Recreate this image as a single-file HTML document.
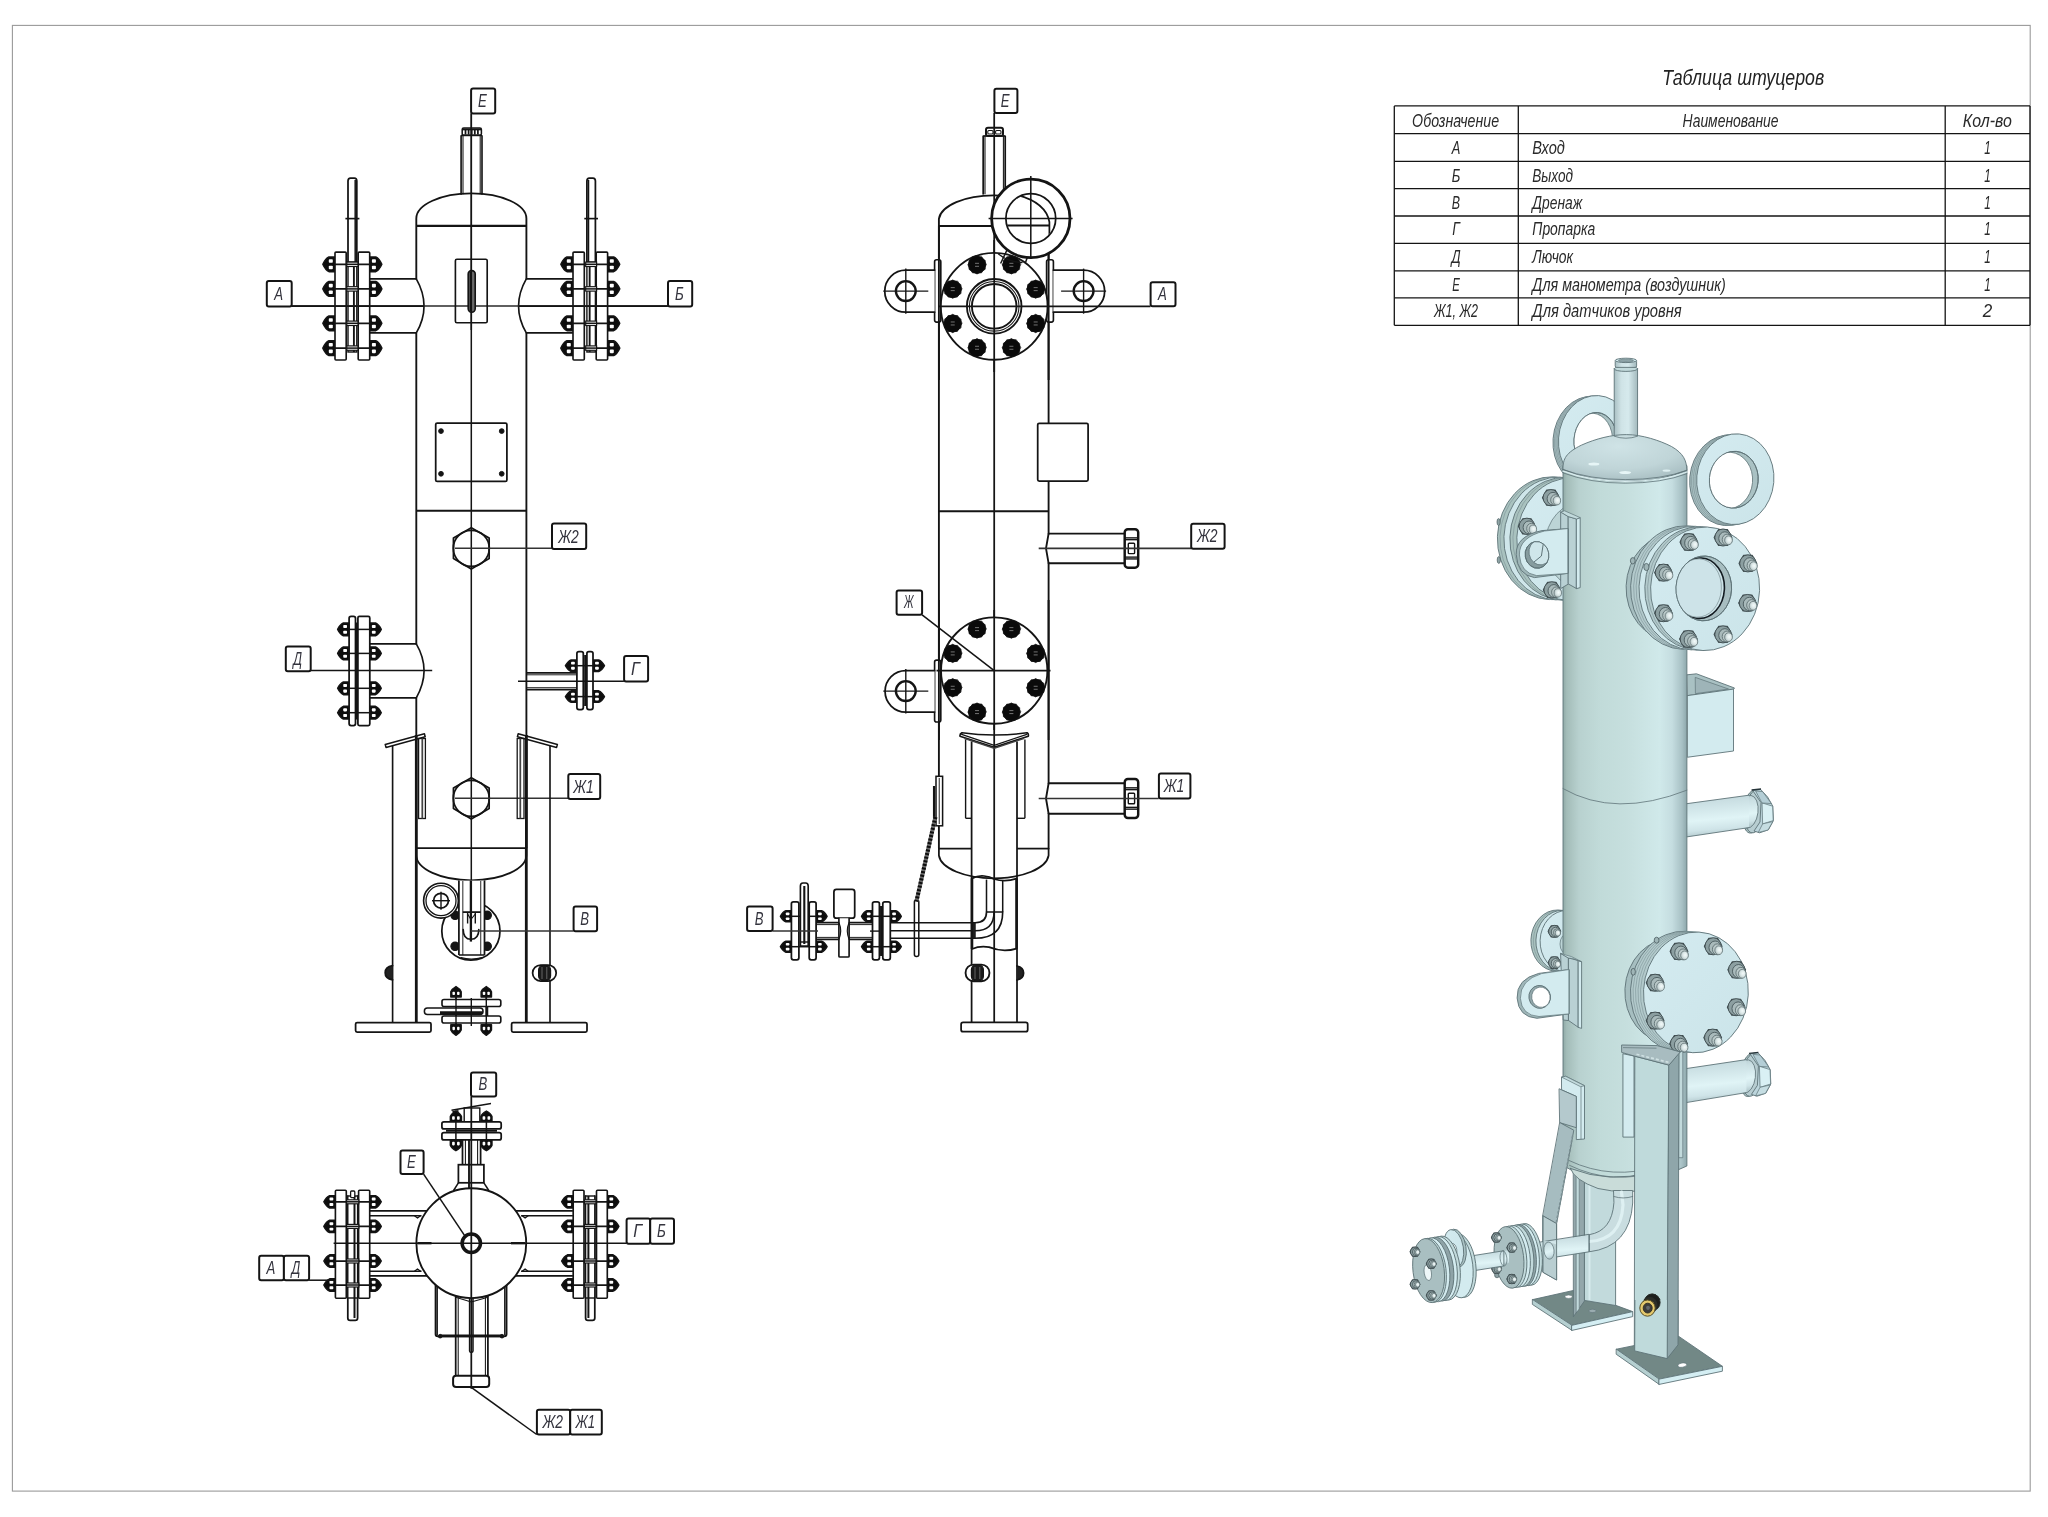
<!DOCTYPE html>
<html lang="ru"><head><meta charset="utf-8"><title>Таблица штуцеров</title>
<style>html,body{margin:0;padding:0;background:#fff;}body{width:2048px;height:1517px;overflow:hidden;font-family:"Liberation Sans",sans-serif;}svg{display:block;filter:blur(0.38px);}</style></head>
<body>
<svg width="2048" height="1517" viewBox="0 0 2048 1517" font-family="'Liberation Sans', sans-serif" font-style="italic">
<rect x="0" y="0" width="2048" height="1517" fill="#fff"/>
<rect x="12.4" y="25.4" width="2017.8" height="1465.7" rx="0" fill="none" stroke="#9a9a9a" stroke-width="1.1"/>
<line x1="1394.3" y1="105.9" x2="2030" y2="105.9" stroke="#141414" stroke-width="1.3" />
<line x1="1394.3" y1="133.6" x2="2030" y2="133.6" stroke="#141414" stroke-width="1.3" />
<line x1="1394.3" y1="161.3" x2="2030" y2="161.3" stroke="#141414" stroke-width="1.3" />
<line x1="1394.3" y1="188.7" x2="2030" y2="188.7" stroke="#141414" stroke-width="1.3" />
<line x1="1394.3" y1="216" x2="2030" y2="216" stroke="#141414" stroke-width="1.3" />
<line x1="1394.3" y1="243.4" x2="2030" y2="243.4" stroke="#141414" stroke-width="1.3" />
<line x1="1394.3" y1="270.8" x2="2030" y2="270.8" stroke="#141414" stroke-width="1.3" />
<line x1="1394.3" y1="297.9" x2="2030" y2="297.9" stroke="#141414" stroke-width="1.3" />
<line x1="1394.3" y1="325.3" x2="2030" y2="325.3" stroke="#141414" stroke-width="1.3" />
<line x1="1394.3" y1="105.9" x2="1394.3" y2="325.3" stroke="#141414" stroke-width="1.3" />
<line x1="1518.3" y1="105.9" x2="1518.3" y2="325.3" stroke="#141414" stroke-width="1.3" />
<line x1="1945.2" y1="105.9" x2="1945.2" y2="325.3" stroke="#141414" stroke-width="1.3" />
<line x1="2030" y1="105.9" x2="2030" y2="325.3" stroke="#141414" stroke-width="1.3" />
<text x="1743.2" y="85.2" font-size="22.2" text-anchor="middle" fill="#222" font-weight="normal" textLength="162" lengthAdjust="spacingAndGlyphs">Таблица штуцеров</text>
<text x="1455.6" y="126.6" font-size="18.6" text-anchor="middle" fill="#2a2a2a" font-weight="normal" textLength="87" lengthAdjust="spacingAndGlyphs">Обозначение</text>
<text x="1730.6" y="126.6" font-size="18.6" text-anchor="middle" fill="#2a2a2a" font-weight="normal" textLength="96" lengthAdjust="spacingAndGlyphs">Наименование</text>
<text x="1987.3" y="126.6" font-size="18.6" text-anchor="middle" fill="#2a2a2a" font-weight="normal" textLength="49" lengthAdjust="spacingAndGlyphs">Кол-во</text>
<text x="1456" y="154.3" font-size="18.6" text-anchor="middle" fill="#2a2a2a" font-weight="normal" textLength="8.6" lengthAdjust="spacingAndGlyphs">А</text>
<text x="1532.3" y="154.3" font-size="18.6" text-anchor="start" fill="#2a2a2a" font-weight="normal" textLength="32.6" lengthAdjust="spacingAndGlyphs">Вход</text>
<text x="1987.6" y="154.3" font-size="18.6" text-anchor="middle" fill="#2a2a2a" font-weight="normal" textLength="6.5" lengthAdjust="spacingAndGlyphs">1</text>
<text x="1456" y="181.9" font-size="18.6" text-anchor="middle" fill="#2a2a2a" font-weight="normal" textLength="8.6" lengthAdjust="spacingAndGlyphs">Б</text>
<text x="1532.3" y="181.9" font-size="18.6" text-anchor="start" fill="#2a2a2a" font-weight="normal" textLength="40.8" lengthAdjust="spacingAndGlyphs">Выход</text>
<text x="1987.6" y="181.9" font-size="18.6" text-anchor="middle" fill="#2a2a2a" font-weight="normal" textLength="6.5" lengthAdjust="spacingAndGlyphs">1</text>
<text x="1456" y="208.7" font-size="18.6" text-anchor="middle" fill="#2a2a2a" font-weight="normal" textLength="8.3" lengthAdjust="spacingAndGlyphs">В</text>
<text x="1532.3" y="208.7" font-size="18.6" text-anchor="start" fill="#2a2a2a" font-weight="normal" textLength="49.9" lengthAdjust="spacingAndGlyphs">Дренаж</text>
<text x="1987.6" y="208.7" font-size="18.6" text-anchor="middle" fill="#2a2a2a" font-weight="normal" textLength="6.5" lengthAdjust="spacingAndGlyphs">1</text>
<text x="1456" y="235.2" font-size="18.6" text-anchor="middle" fill="#2a2a2a" font-weight="normal" textLength="7.5" lengthAdjust="spacingAndGlyphs">Г</text>
<text x="1532.3" y="235.2" font-size="18.6" text-anchor="start" fill="#2a2a2a" font-weight="normal" textLength="63" lengthAdjust="spacingAndGlyphs">Пропарка</text>
<text x="1987.6" y="235.2" font-size="18.6" text-anchor="middle" fill="#2a2a2a" font-weight="normal" textLength="6.5" lengthAdjust="spacingAndGlyphs">1</text>
<text x="1456" y="263" font-size="18.6" text-anchor="middle" fill="#2a2a2a" font-weight="normal" textLength="9.2" lengthAdjust="spacingAndGlyphs">Д</text>
<text x="1532.3" y="263" font-size="18.6" text-anchor="start" fill="#2a2a2a" font-weight="normal" textLength="40.8" lengthAdjust="spacingAndGlyphs">Лючок</text>
<text x="1987.6" y="263" font-size="18.6" text-anchor="middle" fill="#2a2a2a" font-weight="normal" textLength="6.5" lengthAdjust="spacingAndGlyphs">1</text>
<text x="1456" y="290.9" font-size="18.6" text-anchor="middle" fill="#2a2a2a" font-weight="normal" textLength="7.6" lengthAdjust="spacingAndGlyphs">Е</text>
<text x="1532.3" y="290.9" font-size="18.6" text-anchor="start" fill="#2a2a2a" font-weight="normal" textLength="193.4" lengthAdjust="spacingAndGlyphs">Для манометра (воздушник)</text>
<text x="1987.6" y="290.9" font-size="18.6" text-anchor="middle" fill="#2a2a2a" font-weight="normal" textLength="6.5" lengthAdjust="spacingAndGlyphs">1</text>
<text x="1456" y="317.4" font-size="18.6" text-anchor="middle" fill="#2a2a2a" font-weight="normal" textLength="44" lengthAdjust="spacingAndGlyphs">Ж1, Ж2</text>
<text x="1532.3" y="317.4" font-size="18.6" text-anchor="start" fill="#2a2a2a" font-weight="normal" textLength="149.4" lengthAdjust="spacingAndGlyphs">Для датчиков уровня</text>
<text x="1987.6" y="317.4" font-size="18.6" text-anchor="middle" fill="#2a2a2a" font-weight="normal" textLength="9.5" lengthAdjust="spacingAndGlyphs">2</text>
<line x1="471.3" y1="113.4" x2="471.3" y2="880.5" stroke="#141414" stroke-width="1.52" />
<line x1="461.1" y1="135.2" x2="461.1" y2="194.8" stroke="#141414" stroke-width="1.64" />
<line x1="482" y1="135.2" x2="482" y2="194.8" stroke="#141414" stroke-width="1.64" />
<line x1="463" y1="135.2" x2="463" y2="194.2" stroke="#141414" stroke-width="1.05" />
<line x1="480.2" y1="135.2" x2="480.2" y2="194.2" stroke="#141414" stroke-width="1.05" />
<line x1="461.1" y1="135.4" x2="482" y2="135.4" stroke="#141414" stroke-width="1.64" />
<rect x="462.2" y="128" width="19.2" height="7.2" rx="1.5" fill="none" stroke="#141414" stroke-width="1.52"/>
<line x1="465.5" y1="129.2" x2="465.5" y2="134.6" stroke="#141414" stroke-width="1.75" />
<line x1="468.6" y1="129.2" x2="468.6" y2="134.6" stroke="#141414" stroke-width="1.75" />
<line x1="471.7" y1="129.2" x2="471.7" y2="134.6" stroke="#141414" stroke-width="1.75" />
<line x1="474.8" y1="129.2" x2="474.8" y2="134.6" stroke="#141414" stroke-width="1.75" />
<line x1="477.9" y1="129.2" x2="477.9" y2="134.6" stroke="#141414" stroke-width="1.75" />
<line x1="462.2" y1="129.4" x2="481.4" y2="129.4" stroke="#141414" stroke-width="1.87" />
<path d="M416.3 278.8 V218.5 A55.05 25.1 0 0 1 526.4 218.5 V278.8" fill="none" stroke="#141414" stroke-width="1.87" stroke-linejoin="round" stroke-linecap="round" />
<path d="M416.3 332.9 V643.9 M416.3 697.8 V848.1 M526.4 332.9 V848.1" fill="none" stroke="#141414" stroke-width="1.87" stroke-linejoin="round" stroke-linecap="round" />
<line x1="416.3" y1="225.9" x2="526.4" y2="225.9" stroke="#141414" stroke-width="2.11" />
<line x1="416.3" y1="510.8" x2="526.4" y2="510.8" stroke="#141414" stroke-width="1.87" />
<line x1="416.3" y1="848.1" x2="526.4" y2="848.1" stroke="#141414" stroke-width="1.75" />
<path d="M416.3 848.1 V855 A55.05 25.3 0 0 0 526.4 855 V848.1" fill="none" stroke="#141414" stroke-width="1.75" stroke-linejoin="round" stroke-linecap="round" />
<line x1="369.7" y1="278.8" x2="416.3" y2="278.8" stroke="#141414" stroke-width="1.75" />
<line x1="369.7" y1="332.9" x2="416.3" y2="332.9" stroke="#141414" stroke-width="1.75" />
<path d="M416.3 278.8 Q431.8 306.1 416.3 332.9" fill="none" stroke="#141414" stroke-width="1.64" stroke-linejoin="round" stroke-linecap="round" />
<path d="M348.0 262 V181 Q348.0 178 350.5 178 H354.3 Q356.8 178 356.8 181 V262" fill="#fff" stroke="#141414" stroke-width="1.75" stroke-linejoin="round" stroke-linecap="round" />
<line x1="355.2" y1="180" x2="355.2" y2="262" stroke="#141414" stroke-width="1.52" />
<line x1="345.4" y1="218.6" x2="359.4" y2="218.6" stroke="#141414" stroke-width="1.64" />
<path d="M335 256.9 L328.9 256.9 Q325.48 258.38 322.8 264.3 Q325.48 270.22 328.9 271.7 L335 271.7 Z" fill="#0d0d0d" stroke="#141414" stroke-width="1.4" stroke-linejoin="round" stroke-linecap="round" />
<rect x="328.8" y="259.27" width="4" height="3.55" rx="0.8" fill="#fff" stroke="none" stroke-width="0.0"/>
<rect x="328.8" y="265.78" width="4" height="3.55" rx="0.8" fill="#fff" stroke="none" stroke-width="0.0"/>
<path d="M369.7 256.9 L375.8 256.9 Q379.22 258.38 381.9 264.3 Q379.22 270.22 375.8 271.7 L369.7 271.7 Z" fill="#0d0d0d" stroke="#141414" stroke-width="1.4" stroke-linejoin="round" stroke-linecap="round" />
<rect x="371.9" y="259.27" width="4" height="3.55" rx="0.8" fill="#fff" stroke="none" stroke-width="0.0"/>
<rect x="371.9" y="265.78" width="4" height="3.55" rx="0.8" fill="#fff" stroke="none" stroke-width="0.0"/>
<path d="M335 281.5 L328.9 281.5 Q325.48 282.98 322.8 288.9 Q325.48 294.82 328.9 296.3 L335 296.3 Z" fill="#0d0d0d" stroke="#141414" stroke-width="1.4" stroke-linejoin="round" stroke-linecap="round" />
<rect x="328.8" y="283.87" width="4" height="3.55" rx="0.8" fill="#fff" stroke="none" stroke-width="0.0"/>
<rect x="328.8" y="290.38" width="4" height="3.55" rx="0.8" fill="#fff" stroke="none" stroke-width="0.0"/>
<path d="M369.7 281.5 L375.8 281.5 Q379.22 282.98 381.9 288.9 Q379.22 294.82 375.8 296.3 L369.7 296.3 Z" fill="#0d0d0d" stroke="#141414" stroke-width="1.4" stroke-linejoin="round" stroke-linecap="round" />
<rect x="371.9" y="283.87" width="4" height="3.55" rx="0.8" fill="#fff" stroke="none" stroke-width="0.0"/>
<rect x="371.9" y="290.38" width="4" height="3.55" rx="0.8" fill="#fff" stroke="none" stroke-width="0.0"/>
<path d="M335 315.9 L328.9 315.9 Q325.48 317.38 322.8 323.3 Q325.48 329.22 328.9 330.7 L335 330.7 Z" fill="#0d0d0d" stroke="#141414" stroke-width="1.4" stroke-linejoin="round" stroke-linecap="round" />
<rect x="328.8" y="318.27" width="4" height="3.55" rx="0.8" fill="#fff" stroke="none" stroke-width="0.0"/>
<rect x="328.8" y="324.78" width="4" height="3.55" rx="0.8" fill="#fff" stroke="none" stroke-width="0.0"/>
<path d="M369.7 315.9 L375.8 315.9 Q379.22 317.38 381.9 323.3 Q379.22 329.22 375.8 330.7 L369.7 330.7 Z" fill="#0d0d0d" stroke="#141414" stroke-width="1.4" stroke-linejoin="round" stroke-linecap="round" />
<rect x="371.9" y="318.27" width="4" height="3.55" rx="0.8" fill="#fff" stroke="none" stroke-width="0.0"/>
<rect x="371.9" y="324.78" width="4" height="3.55" rx="0.8" fill="#fff" stroke="none" stroke-width="0.0"/>
<path d="M335 340.7 L328.9 340.7 Q325.48 342.18 322.8 348.1 Q325.48 354.02 328.9 355.5 L335 355.5 Z" fill="#0d0d0d" stroke="#141414" stroke-width="1.4" stroke-linejoin="round" stroke-linecap="round" />
<rect x="328.8" y="343.07" width="4" height="3.55" rx="0.8" fill="#fff" stroke="none" stroke-width="0.0"/>
<rect x="328.8" y="349.58" width="4" height="3.55" rx="0.8" fill="#fff" stroke="none" stroke-width="0.0"/>
<path d="M369.7 340.7 L375.8 340.7 Q379.22 342.18 381.9 348.1 Q379.22 354.02 375.8 355.5 L369.7 355.5 Z" fill="#0d0d0d" stroke="#141414" stroke-width="1.4" stroke-linejoin="round" stroke-linecap="round" />
<rect x="371.9" y="343.07" width="4" height="3.55" rx="0.8" fill="#fff" stroke="none" stroke-width="0.0"/>
<rect x="371.9" y="349.58" width="4" height="3.55" rx="0.8" fill="#fff" stroke="none" stroke-width="0.0"/>
<rect x="335" y="252.1" width="11.2" height="107.9" rx="1" fill="#fff" stroke="#141414" stroke-width="1.64"/>
<rect x="358.2" y="252.1" width="11.5" height="107.9" rx="1" fill="#fff" stroke="#141414" stroke-width="1.64"/>
<line x1="335" y1="264.3" x2="369.7" y2="264.3" stroke="#141414" stroke-width="1.75" />
<line x1="335" y1="288.9" x2="369.7" y2="288.9" stroke="#141414" stroke-width="1.75" />
<line x1="335" y1="323.3" x2="369.7" y2="323.3" stroke="#141414" stroke-width="1.75" />
<line x1="335" y1="348.1" x2="369.7" y2="348.1" stroke="#141414" stroke-width="1.75" />
<rect x="348" y="262" width="8.8" height="90" rx="0" fill="none" stroke="#141414" stroke-width="1.4"/>
<line x1="353.9" y1="262" x2="353.9" y2="352" stroke="#141414" stroke-width="1.87" />
<rect x="346.8" y="262.1" width="11.2" height="4.4" rx="0" fill="#fff" stroke="#141414" stroke-width="1.17"/>
<line x1="346.8" y1="264.3" x2="358" y2="264.3" stroke="#141414" stroke-width="1.52" />
<rect x="346.8" y="286.7" width="11.2" height="4.4" rx="0" fill="#fff" stroke="#141414" stroke-width="1.17"/>
<line x1="346.8" y1="288.9" x2="358" y2="288.9" stroke="#141414" stroke-width="1.52" />
<rect x="346.8" y="321.1" width="11.2" height="4.4" rx="0" fill="#fff" stroke="#141414" stroke-width="1.17"/>
<line x1="346.8" y1="323.3" x2="358" y2="323.3" stroke="#141414" stroke-width="1.52" />
<rect x="346.8" y="345.9" width="11.2" height="4.4" rx="0" fill="#fff" stroke="#141414" stroke-width="1.17"/>
<line x1="346.8" y1="348.1" x2="358" y2="348.1" stroke="#141414" stroke-width="1.52" />
<line x1="572.9" y1="278.8" x2="526.3" y2="278.8" stroke="#141414" stroke-width="1.75" />
<line x1="572.9" y1="332.9" x2="526.3" y2="332.9" stroke="#141414" stroke-width="1.75" />
<path d="M526.3 278.8 Q510.8 306.1 526.3 332.9" fill="none" stroke="#141414" stroke-width="1.64" stroke-linejoin="round" stroke-linecap="round" />
<path d="M586.9 262 V181 Q586.9 178 589.4 178 H592.9 Q595.4 178 595.4 181 V262" fill="#fff" stroke="#141414" stroke-width="1.75" stroke-linejoin="round" stroke-linecap="round" />
<line x1="588.5" y1="180" x2="588.5" y2="262" stroke="#141414" stroke-width="1.52" />
<line x1="584.3" y1="218.6" x2="598" y2="218.6" stroke="#141414" stroke-width="1.64" />
<path d="M573 256.9 L566.9 256.9 Q563.48 258.38 560.8 264.3 Q563.48 270.22 566.9 271.7 L573 271.7 Z" fill="#0d0d0d" stroke="#141414" stroke-width="1.4" stroke-linejoin="round" stroke-linecap="round" />
<rect x="566.8" y="259.27" width="4" height="3.55" rx="0.8" fill="#fff" stroke="none" stroke-width="0.0"/>
<rect x="566.8" y="265.78" width="4" height="3.55" rx="0.8" fill="#fff" stroke="none" stroke-width="0.0"/>
<path d="M607.6 256.9 L613.7 256.9 Q617.12 258.38 619.8 264.3 Q617.12 270.22 613.7 271.7 L607.6 271.7 Z" fill="#0d0d0d" stroke="#141414" stroke-width="1.4" stroke-linejoin="round" stroke-linecap="round" />
<rect x="609.8" y="259.27" width="4" height="3.55" rx="0.8" fill="#fff" stroke="none" stroke-width="0.0"/>
<rect x="609.8" y="265.78" width="4" height="3.55" rx="0.8" fill="#fff" stroke="none" stroke-width="0.0"/>
<path d="M573 281.5 L566.9 281.5 Q563.48 282.98 560.8 288.9 Q563.48 294.82 566.9 296.3 L573 296.3 Z" fill="#0d0d0d" stroke="#141414" stroke-width="1.4" stroke-linejoin="round" stroke-linecap="round" />
<rect x="566.8" y="283.87" width="4" height="3.55" rx="0.8" fill="#fff" stroke="none" stroke-width="0.0"/>
<rect x="566.8" y="290.38" width="4" height="3.55" rx="0.8" fill="#fff" stroke="none" stroke-width="0.0"/>
<path d="M607.6 281.5 L613.7 281.5 Q617.12 282.98 619.8 288.9 Q617.12 294.82 613.7 296.3 L607.6 296.3 Z" fill="#0d0d0d" stroke="#141414" stroke-width="1.4" stroke-linejoin="round" stroke-linecap="round" />
<rect x="609.8" y="283.87" width="4" height="3.55" rx="0.8" fill="#fff" stroke="none" stroke-width="0.0"/>
<rect x="609.8" y="290.38" width="4" height="3.55" rx="0.8" fill="#fff" stroke="none" stroke-width="0.0"/>
<path d="M573 315.9 L566.9 315.9 Q563.48 317.38 560.8 323.3 Q563.48 329.22 566.9 330.7 L573 330.7 Z" fill="#0d0d0d" stroke="#141414" stroke-width="1.4" stroke-linejoin="round" stroke-linecap="round" />
<rect x="566.8" y="318.27" width="4" height="3.55" rx="0.8" fill="#fff" stroke="none" stroke-width="0.0"/>
<rect x="566.8" y="324.78" width="4" height="3.55" rx="0.8" fill="#fff" stroke="none" stroke-width="0.0"/>
<path d="M607.6 315.9 L613.7 315.9 Q617.12 317.38 619.8 323.3 Q617.12 329.22 613.7 330.7 L607.6 330.7 Z" fill="#0d0d0d" stroke="#141414" stroke-width="1.4" stroke-linejoin="round" stroke-linecap="round" />
<rect x="609.8" y="318.27" width="4" height="3.55" rx="0.8" fill="#fff" stroke="none" stroke-width="0.0"/>
<rect x="609.8" y="324.78" width="4" height="3.55" rx="0.8" fill="#fff" stroke="none" stroke-width="0.0"/>
<path d="M573 340.7 L566.9 340.7 Q563.48 342.18 560.8 348.1 Q563.48 354.02 566.9 355.5 L573 355.5 Z" fill="#0d0d0d" stroke="#141414" stroke-width="1.4" stroke-linejoin="round" stroke-linecap="round" />
<rect x="566.8" y="343.07" width="4" height="3.55" rx="0.8" fill="#fff" stroke="none" stroke-width="0.0"/>
<rect x="566.8" y="349.58" width="4" height="3.55" rx="0.8" fill="#fff" stroke="none" stroke-width="0.0"/>
<path d="M607.6 340.7 L613.7 340.7 Q617.12 342.18 619.8 348.1 Q617.12 354.02 613.7 355.5 L607.6 355.5 Z" fill="#0d0d0d" stroke="#141414" stroke-width="1.4" stroke-linejoin="round" stroke-linecap="round" />
<rect x="609.8" y="343.07" width="4" height="3.55" rx="0.8" fill="#fff" stroke="none" stroke-width="0.0"/>
<rect x="609.8" y="349.58" width="4" height="3.55" rx="0.8" fill="#fff" stroke="none" stroke-width="0.0"/>
<rect x="573" y="252.1" width="11.3" height="107.9" rx="1" fill="#fff" stroke="#141414" stroke-width="1.64"/>
<rect x="596.2" y="252.1" width="11.4" height="107.9" rx="1" fill="#fff" stroke="#141414" stroke-width="1.64"/>
<line x1="573" y1="264.3" x2="607.6" y2="264.3" stroke="#141414" stroke-width="1.75" />
<line x1="573" y1="288.9" x2="607.6" y2="288.9" stroke="#141414" stroke-width="1.75" />
<line x1="573" y1="323.3" x2="607.6" y2="323.3" stroke="#141414" stroke-width="1.75" />
<line x1="573" y1="348.1" x2="607.6" y2="348.1" stroke="#141414" stroke-width="1.75" />
<rect x="586.9" y="262" width="8.5" height="90" rx="0" fill="none" stroke="#141414" stroke-width="1.4"/>
<line x1="589.65" y1="262" x2="589.65" y2="352" stroke="#141414" stroke-width="1.87" />
<rect x="585.7" y="262.1" width="10.9" height="4.4" rx="0" fill="#fff" stroke="#141414" stroke-width="1.17"/>
<line x1="585.7" y1="264.3" x2="596.6" y2="264.3" stroke="#141414" stroke-width="1.52" />
<rect x="585.7" y="286.7" width="10.9" height="4.4" rx="0" fill="#fff" stroke="#141414" stroke-width="1.17"/>
<line x1="585.7" y1="288.9" x2="596.6" y2="288.9" stroke="#141414" stroke-width="1.52" />
<rect x="585.7" y="321.1" width="10.9" height="4.4" rx="0" fill="#fff" stroke="#141414" stroke-width="1.17"/>
<line x1="585.7" y1="323.3" x2="596.6" y2="323.3" stroke="#141414" stroke-width="1.52" />
<rect x="585.7" y="345.9" width="10.9" height="4.4" rx="0" fill="#fff" stroke="#141414" stroke-width="1.17"/>
<line x1="585.7" y1="348.1" x2="596.6" y2="348.1" stroke="#141414" stroke-width="1.52" />
<line x1="291.7" y1="306.1" x2="667.8" y2="306.1" stroke="#2a2a2a" stroke-width="1.52" />
<line x1="291.7" y1="306.1" x2="424" y2="306.1" stroke="#141414" stroke-width="1.87" />
<line x1="518.6" y1="306.1" x2="667.8" y2="306.1" stroke="#141414" stroke-width="1.87" />
<rect x="266.8" y="281.1" width="24.9" height="25.5" rx="2.0" fill="#fff" stroke="#141414" stroke-width="1.99"/>
<text x="278.55" y="300.2" font-size="17.8" text-anchor="middle" fill="#34343e" font-weight="normal" textLength="8.8" lengthAdjust="spacingAndGlyphs">А</text>
<rect x="668" y="281.1" width="24.2" height="25.5" rx="2.0" fill="#fff" stroke="#141414" stroke-width="1.99"/>
<text x="679.4" y="300.2" font-size="17.8" text-anchor="middle" fill="#34343e" font-weight="normal" textLength="8.8" lengthAdjust="spacingAndGlyphs">Б</text>
<rect x="471.1" y="88.4" width="24.1" height="25" rx="2.0" fill="#fff" stroke="#141414" stroke-width="1.99"/>
<text x="482.45" y="107" font-size="17.8" text-anchor="middle" fill="#34343e" font-weight="normal" textLength="8.8" lengthAdjust="spacingAndGlyphs">Е</text>
<rect x="455.4" y="259.3" width="31.8" height="63.4" rx="1.5" fill="none" stroke="#141414" stroke-width="1.64"/>
<rect x="468.2" y="270.6" width="7" height="41.6" rx="3.4" fill="#6a6a6a" stroke="#141414" stroke-width="1.64"/>
<line x1="470.6" y1="272" x2="470.6" y2="311" stroke="#141414" stroke-width="1.87" />
<line x1="471.3" y1="113.4" x2="471.3" y2="330" stroke="#141414" stroke-width="1.52" />
<rect x="435.7" y="423" width="71.2" height="58.4" rx="1.5" fill="none" stroke="#141414" stroke-width="1.75"/>
<circle cx="441" cy="431.1" r="2.4" fill="#141414" stroke="#141414" stroke-width="0.94"/>
<circle cx="501.7" cy="431.1" r="2.4" fill="#141414" stroke="#141414" stroke-width="0.94"/>
<circle cx="441" cy="473.8" r="2.4" fill="#141414" stroke="#141414" stroke-width="0.94"/>
<circle cx="501.7" cy="473.8" r="2.4" fill="#141414" stroke="#141414" stroke-width="0.94"/>
<path d="M471.3 527.7 L489.14 538 L489.14 558.6 L471.3 568.9 L453.46 558.6 L453.46 538 Z" fill="none" stroke="#141414" stroke-width="1.75" stroke-linejoin="round" stroke-linecap="round" />
<circle cx="471.3" cy="548.3" r="18" fill="none" stroke="#141414" stroke-width="1.75"/>
<line x1="455" y1="548.3" x2="551.8" y2="548.3" stroke="#333" stroke-width="1.64" />
<rect x="552" y="523.6" width="34.2" height="25.3" rx="2.0" fill="#fff" stroke="#141414" stroke-width="1.99"/>
<text x="568.4" y="542.5" font-size="17.8" text-anchor="middle" fill="#34343e" font-weight="normal" textLength="20.5" lengthAdjust="spacingAndGlyphs">Ж2</text>
<path d="M471.3 777.7 L489.14 788 L489.14 808.6 L471.3 818.9 L453.46 808.6 L453.46 788 Z" fill="none" stroke="#141414" stroke-width="1.75" stroke-linejoin="round" stroke-linecap="round" />
<circle cx="471.3" cy="798.3" r="18" fill="none" stroke="#141414" stroke-width="1.75"/>
<line x1="455" y1="798.3" x2="568.1" y2="798.3" stroke="#333" stroke-width="1.64" />
<rect x="568.3" y="774" width="31.9" height="25" rx="2.0" fill="#fff" stroke="#141414" stroke-width="1.99"/>
<text x="583.55" y="792.6" font-size="17.8" text-anchor="middle" fill="#34343e" font-weight="normal" textLength="20.5" lengthAdjust="spacingAndGlyphs">Ж1</text>
<line x1="369.8" y1="643.9" x2="416.3" y2="643.9" stroke="#141414" stroke-width="1.75" />
<line x1="369.8" y1="697.8" x2="416.3" y2="697.8" stroke="#141414" stroke-width="1.75" />
<path d="M416.3 643.9 Q431.8 670.5 416.3 697.8" fill="none" stroke="#141414" stroke-width="1.64" stroke-linejoin="round" stroke-linecap="round" />
<path d="M349.1 623 L343.35 623 Q340.13 624.28 337.6 629.4 Q340.13 634.52 343.35 635.8 L349.1 635.8 Z" fill="#0d0d0d" stroke="#141414" stroke-width="1.4" stroke-linejoin="round" stroke-linecap="round" />
<rect x="343.26" y="625.05" width="3.77" height="3.07" rx="0.8" fill="#fff" stroke="none" stroke-width="0.0"/>
<rect x="343.26" y="630.68" width="3.77" height="3.07" rx="0.8" fill="#fff" stroke="none" stroke-width="0.0"/>
<path d="M369.8 623 L375.55 623 Q378.77 624.28 381.3 629.4 Q378.77 634.52 375.55 635.8 L369.8 635.8 Z" fill="#0d0d0d" stroke="#141414" stroke-width="1.4" stroke-linejoin="round" stroke-linecap="round" />
<rect x="371.87" y="625.05" width="3.77" height="3.07" rx="0.8" fill="#fff" stroke="none" stroke-width="0.0"/>
<rect x="371.87" y="630.68" width="3.77" height="3.07" rx="0.8" fill="#fff" stroke="none" stroke-width="0.0"/>
<path d="M349.1 647 L343.35 647 Q340.13 648.28 337.6 653.4 Q340.13 658.52 343.35 659.8 L349.1 659.8 Z" fill="#0d0d0d" stroke="#141414" stroke-width="1.4" stroke-linejoin="round" stroke-linecap="round" />
<rect x="343.26" y="649.05" width="3.77" height="3.07" rx="0.8" fill="#fff" stroke="none" stroke-width="0.0"/>
<rect x="343.26" y="654.68" width="3.77" height="3.07" rx="0.8" fill="#fff" stroke="none" stroke-width="0.0"/>
<path d="M369.8 647 L375.55 647 Q378.77 648.28 381.3 653.4 Q378.77 658.52 375.55 659.8 L369.8 659.8 Z" fill="#0d0d0d" stroke="#141414" stroke-width="1.4" stroke-linejoin="round" stroke-linecap="round" />
<rect x="371.87" y="649.05" width="3.77" height="3.07" rx="0.8" fill="#fff" stroke="none" stroke-width="0.0"/>
<rect x="371.87" y="654.68" width="3.77" height="3.07" rx="0.8" fill="#fff" stroke="none" stroke-width="0.0"/>
<path d="M349.1 681.9 L343.35 681.9 Q340.13 683.18 337.6 688.3 Q340.13 693.42 343.35 694.7 L349.1 694.7 Z" fill="#0d0d0d" stroke="#141414" stroke-width="1.4" stroke-linejoin="round" stroke-linecap="round" />
<rect x="343.26" y="683.95" width="3.77" height="3.07" rx="0.8" fill="#fff" stroke="none" stroke-width="0.0"/>
<rect x="343.26" y="689.58" width="3.77" height="3.07" rx="0.8" fill="#fff" stroke="none" stroke-width="0.0"/>
<path d="M369.8 681.9 L375.55 681.9 Q378.77 683.18 381.3 688.3 Q378.77 693.42 375.55 694.7 L369.8 694.7 Z" fill="#0d0d0d" stroke="#141414" stroke-width="1.4" stroke-linejoin="round" stroke-linecap="round" />
<rect x="371.87" y="683.95" width="3.77" height="3.07" rx="0.8" fill="#fff" stroke="none" stroke-width="0.0"/>
<rect x="371.87" y="689.58" width="3.77" height="3.07" rx="0.8" fill="#fff" stroke="none" stroke-width="0.0"/>
<path d="M349.1 706.3 L343.35 706.3 Q340.13 707.58 337.6 712.7 Q340.13 717.82 343.35 719.1 L349.1 719.1 Z" fill="#0d0d0d" stroke="#141414" stroke-width="1.4" stroke-linejoin="round" stroke-linecap="round" />
<rect x="343.26" y="708.35" width="3.77" height="3.07" rx="0.8" fill="#fff" stroke="none" stroke-width="0.0"/>
<rect x="343.26" y="713.98" width="3.77" height="3.07" rx="0.8" fill="#fff" stroke="none" stroke-width="0.0"/>
<path d="M369.8 706.3 L375.55 706.3 Q378.77 707.58 381.3 712.7 Q378.77 717.82 375.55 719.1 L369.8 719.1 Z" fill="#0d0d0d" stroke="#141414" stroke-width="1.4" stroke-linejoin="round" stroke-linecap="round" />
<rect x="371.87" y="708.35" width="3.77" height="3.07" rx="0.8" fill="#fff" stroke="none" stroke-width="0.0"/>
<rect x="371.87" y="713.98" width="3.77" height="3.07" rx="0.8" fill="#fff" stroke="none" stroke-width="0.0"/>
<rect x="349.1" y="616.4" width="6.4" height="109.1" rx="2" fill="#fff" stroke="#141414" stroke-width="1.75"/>
<rect x="357.9" y="616.4" width="11.9" height="109.1" rx="1.5" fill="#fff" stroke="#141414" stroke-width="1.75"/>
<line x1="356.7" y1="622.5" x2="356.7" y2="719.5" stroke="#141414" stroke-width="2.34" />
<line x1="349.1" y1="629.4" x2="369.8" y2="629.4" stroke="#141414" stroke-width="1.52" />
<line x1="349.1" y1="653.4" x2="369.8" y2="653.4" stroke="#141414" stroke-width="1.52" />
<line x1="349.1" y1="688.3" x2="369.8" y2="688.3" stroke="#141414" stroke-width="1.52" />
<line x1="349.1" y1="712.7" x2="369.8" y2="712.7" stroke="#141414" stroke-width="1.52" />
<line x1="310.7" y1="670.5" x2="432.2" y2="670.5" stroke="#141414" stroke-width="1.64" />
<rect x="285.8" y="646.6" width="24.9" height="24.6" rx="2.0" fill="#fff" stroke="#141414" stroke-width="1.99"/>
<text x="297.55" y="664.8" font-size="17.8" text-anchor="middle" fill="#34343e" font-weight="normal" textLength="8.8" lengthAdjust="spacingAndGlyphs">Д</text>
<line x1="526.4" y1="672.9" x2="576.9" y2="672.9" stroke="#141414" stroke-width="1.75" />
<line x1="526.4" y1="689.5" x2="576.9" y2="689.5" stroke="#141414" stroke-width="1.75" />
<line x1="526.4" y1="674.8" x2="576.9" y2="674.8" stroke="#141414" stroke-width="0.94" />
<line x1="526.4" y1="687.7" x2="576.9" y2="687.7" stroke="#141414" stroke-width="0.94" />
<path d="M576.9 659.9 L571.15 659.9 Q567.93 661.06 565.4 665.7 Q567.93 670.34 571.15 671.5 L576.9 671.5 Z" fill="#0d0d0d" stroke="#141414" stroke-width="1.4" stroke-linejoin="round" stroke-linecap="round" />
<rect x="571.06" y="661.76" width="3.77" height="2.78" rx="0.8" fill="#fff" stroke="none" stroke-width="0.0"/>
<rect x="571.06" y="666.86" width="3.77" height="2.78" rx="0.8" fill="#fff" stroke="none" stroke-width="0.0"/>
<path d="M593 659.9 L598.75 659.9 Q601.97 661.06 604.5 665.7 Q601.97 670.34 598.75 671.5 L593 671.5 Z" fill="#0d0d0d" stroke="#141414" stroke-width="1.4" stroke-linejoin="round" stroke-linecap="round" />
<rect x="595.07" y="661.76" width="3.77" height="2.78" rx="0.8" fill="#fff" stroke="none" stroke-width="0.0"/>
<rect x="595.07" y="666.86" width="3.77" height="2.78" rx="0.8" fill="#fff" stroke="none" stroke-width="0.0"/>
<path d="M576.9 690.8 L571.15 690.8 Q567.93 691.96 565.4 696.6 Q567.93 701.24 571.15 702.4 L576.9 702.4 Z" fill="#0d0d0d" stroke="#141414" stroke-width="1.4" stroke-linejoin="round" stroke-linecap="round" />
<rect x="571.06" y="692.66" width="3.77" height="2.78" rx="0.8" fill="#fff" stroke="none" stroke-width="0.0"/>
<rect x="571.06" y="697.76" width="3.77" height="2.78" rx="0.8" fill="#fff" stroke="none" stroke-width="0.0"/>
<path d="M593 690.8 L598.75 690.8 Q601.97 691.96 604.5 696.6 Q601.97 701.24 598.75 702.4 L593 702.4 Z" fill="#0d0d0d" stroke="#141414" stroke-width="1.4" stroke-linejoin="round" stroke-linecap="round" />
<rect x="595.07" y="692.66" width="3.77" height="2.78" rx="0.8" fill="#fff" stroke="none" stroke-width="0.0"/>
<rect x="595.07" y="697.76" width="3.77" height="2.78" rx="0.8" fill="#fff" stroke="none" stroke-width="0.0"/>
<rect x="576.9" y="651.5" width="6.4" height="58.1" rx="2" fill="#fff" stroke="#141414" stroke-width="1.75"/>
<rect x="586.9" y="651.5" width="6.1" height="58.1" rx="2" fill="#fff" stroke="#141414" stroke-width="1.75"/>
<line x1="585.1" y1="655" x2="585.1" y2="706" stroke="#141414" stroke-width="1.87" />
<line x1="576.9" y1="665.7" x2="593" y2="665.7" stroke="#141414" stroke-width="1.52" />
<line x1="576.9" y1="696.6" x2="593" y2="696.6" stroke="#141414" stroke-width="1.52" />
<line x1="518" y1="681.2" x2="623.9" y2="681.2" stroke="#141414" stroke-width="1.64" />
<rect x="624.1" y="656.1" width="24" height="25.5" rx="2.0" fill="#fff" stroke="#141414" stroke-width="1.99"/>
<text x="635.4" y="675.2" font-size="17.8" text-anchor="middle" fill="#34343e" font-weight="normal" textLength="8.8" lengthAdjust="spacingAndGlyphs">Г</text>
<line x1="392.6" y1="746" x2="392.6" y2="1022.5" stroke="#141414" stroke-width="1.64" />
<line x1="416.3" y1="848.1" x2="416.3" y2="1022.5" stroke="#141414" stroke-width="2.81" />
<rect x="355.6" y="1022.5" width="75.4" height="9.5" rx="1.5" fill="none" stroke="#141414" stroke-width="1.75"/>
<path d="M385.2 744.4 L424.4 733.8 L425.2 736.8 L386 747.4 Z" fill="#fff" stroke="#141414" stroke-width="1.52" stroke-linejoin="round" stroke-linecap="round" />
<rect x="418.6" y="738.5" width="6.8" height="80" rx="0" fill="none" stroke="#141414" stroke-width="1.29"/>
<line x1="422.3" y1="738.5" x2="422.3" y2="818.5" stroke="#444" stroke-width="1.75" />
<line x1="550" y1="746" x2="550" y2="1022.5" stroke="#141414" stroke-width="1.64" />
<line x1="526.3" y1="848.1" x2="526.3" y2="1022.5" stroke="#141414" stroke-width="2.81" />
<rect x="511.6" y="1022.5" width="75.4" height="9.5" rx="1.5" fill="none" stroke="#141414" stroke-width="1.75"/>
<path d="M557.4 744.4 L518.2 733.8 L517.4 736.8 L556.6 747.4 Z" fill="#fff" stroke="#141414" stroke-width="1.52" stroke-linejoin="round" stroke-linecap="round" />
<rect x="517.2" y="738.5" width="6.8" height="80" rx="0" fill="none" stroke="#141414" stroke-width="1.29"/>
<line x1="520.3" y1="738.5" x2="520.3" y2="818.5" stroke="#444" stroke-width="1.75" />
<line x1="416.3" y1="735" x2="416.3" y2="848.1" stroke="#141414" stroke-width="2.81" />
<line x1="526.4" y1="735" x2="526.4" y2="848.1" stroke="#141414" stroke-width="2.81" />
<circle cx="470.9" cy="931.1" r="29.1" fill="none" stroke="#141414" stroke-width="1.75"/>
<circle cx="455.1" cy="915.3" r="4.2" fill="#141414" stroke="#141414" stroke-width="1.17"/>
<circle cx="487.2" cy="915.3" r="4.2" fill="#141414" stroke="#141414" stroke-width="1.17"/>
<circle cx="455.1" cy="946.3" r="4.2" fill="#141414" stroke="#141414" stroke-width="1.17"/>
<circle cx="487.2" cy="946.3" r="4.2" fill="#141414" stroke="#141414" stroke-width="1.17"/>
<rect x="458.9" y="880.6" width="25.6" height="74.4" rx="0" fill="#fff" stroke="none" stroke-width="0.0"/>
<line x1="458.9" y1="880.4" x2="458.9" y2="955" stroke="#141414" stroke-width="1.75" />
<line x1="484.5" y1="880.4" x2="484.5" y2="955" stroke="#141414" stroke-width="1.75" />
<line x1="462.8" y1="881" x2="462.8" y2="955" stroke="#444" stroke-width="1.17" />
<line x1="480.7" y1="881" x2="480.7" y2="955" stroke="#444" stroke-width="1.17" />
<line x1="458.9" y1="955" x2="484.5" y2="955" stroke="#141414" stroke-width="1.52" />
<path d="M461.0 957.6 Q470.9 960.6 482.4 957.6" fill="none" stroke="#141414" stroke-width="1.05" stroke-linejoin="round" stroke-linecap="round" />
<line x1="462.8" y1="912.1" x2="480.7" y2="912.1" stroke="#141414" stroke-width="1.75" />
<path d="M463.2 929.5 Q463.2 939.3 470.9 939.3 Q478.8 939.3 478.8 929.5" fill="none" stroke="#141414" stroke-width="1.64" stroke-linejoin="round" stroke-linecap="round" />
<line x1="467.6" y1="912.1" x2="467.6" y2="923.5" stroke="#141414" stroke-width="1.4" />
<line x1="475.3" y1="912.1" x2="475.3" y2="923.5" stroke="#141414" stroke-width="1.4" />
<path d="M467.6 914.0 L470.9 919.5 L475.3 914.0" fill="none" stroke="#141414" stroke-width="1.17" stroke-linejoin="round" stroke-linecap="round" />
<line x1="470.9" y1="880.5" x2="470.9" y2="941.6" stroke="#141414" stroke-width="2.34" />
<line x1="470.9" y1="931.1" x2="573.4" y2="931.1" stroke="#333" stroke-width="1.52" />
<rect x="573.6" y="906.4" width="23.5" height="24.8" rx="2.0" fill="#fff" stroke="#141414" stroke-width="1.99"/>
<text x="584.65" y="924.8" font-size="17.8" text-anchor="middle" fill="#34343e" font-weight="normal" textLength="8.8" lengthAdjust="spacingAndGlyphs">В</text>
<circle cx="441" cy="900.7" r="17.4" fill="#fff" stroke="#141414" stroke-width="1.64"/>
<circle cx="441" cy="900.7" r="15" fill="none" stroke="#141414" stroke-width="1.29"/>
<circle cx="441" cy="900.7" r="7.4" fill="none" stroke="#141414" stroke-width="1.75"/>
<line x1="432" y1="900.7" x2="450" y2="900.7" stroke="#141414" stroke-width="1.4" />
<line x1="441" y1="891.8" x2="441" y2="909.8" stroke="#141414" stroke-width="1.4" />
<path d="M392.6 965.6 Q385.0 967 385.2 972.7 Q385.0 978.4 392.6 979.8" fill="#222" stroke="#141414" stroke-width="1.75" stroke-linejoin="round" stroke-linecap="round" />
<rect x="532.6" y="965" width="23.6" height="16" rx="8.0" fill="#fff" stroke="#141414" stroke-width="1.75"/>
<rect x="538.6" y="965.4" width="12" height="15.2" rx="4.5" fill="#1a1a1a" stroke="#141414" stroke-width="1.17"/>
<line x1="542" y1="967" x2="542" y2="979" stroke="#777" stroke-width="0.82" />
<line x1="546.8" y1="967" x2="546.8" y2="979" stroke="#777" stroke-width="0.82" />
<path d="M450.8 997 L450.8 991.75 Q451.84 988.81 456 986.5 Q460.16 988.81 461.2 991.75 L461.2 997 Z" fill="#0d0d0d" stroke="#141414" stroke-width="1.4" stroke-linejoin="round" stroke-linecap="round" />
<rect x="452.46" y="991.66" width="2.5" height="3.44" rx="0.8" fill="#fff" stroke="none" stroke-width="0.0"/>
<rect x="457.04" y="991.66" width="2.5" height="3.44" rx="0.8" fill="#fff" stroke="none" stroke-width="0.0"/>
<path d="M450.8 1024.8 L450.8 1030.05 Q451.84 1032.99 456 1035.3 Q460.16 1032.99 461.2 1030.05 L461.2 1024.8 Z" fill="#0d0d0d" stroke="#141414" stroke-width="1.4" stroke-linejoin="round" stroke-linecap="round" />
<rect x="452.46" y="1026.69" width="2.5" height="3.44" rx="0.8" fill="#fff" stroke="none" stroke-width="0.0"/>
<rect x="457.04" y="1026.69" width="2.5" height="3.44" rx="0.8" fill="#fff" stroke="none" stroke-width="0.0"/>
<line x1="456" y1="997" x2="456" y2="1024.8" stroke="#141414" stroke-width="1.64" />
<path d="M481.1 997 L481.1 991.75 Q482.14 988.81 486.3 986.5 Q490.46 988.81 491.5 991.75 L491.5 997 Z" fill="#0d0d0d" stroke="#141414" stroke-width="1.4" stroke-linejoin="round" stroke-linecap="round" />
<rect x="482.76" y="991.66" width="2.5" height="3.44" rx="0.8" fill="#fff" stroke="none" stroke-width="0.0"/>
<rect x="487.34" y="991.66" width="2.5" height="3.44" rx="0.8" fill="#fff" stroke="none" stroke-width="0.0"/>
<path d="M481.1 1024.8 L481.1 1030.05 Q482.14 1032.99 486.3 1035.3 Q490.46 1032.99 491.5 1030.05 L491.5 1024.8 Z" fill="#0d0d0d" stroke="#141414" stroke-width="1.4" stroke-linejoin="round" stroke-linecap="round" />
<rect x="482.76" y="1026.69" width="2.5" height="3.44" rx="0.8" fill="#fff" stroke="none" stroke-width="0.0"/>
<rect x="487.34" y="1026.69" width="2.5" height="3.44" rx="0.8" fill="#fff" stroke="none" stroke-width="0.0"/>
<line x1="486.3" y1="997" x2="486.3" y2="1024.8" stroke="#141414" stroke-width="1.64" />
<rect x="442" y="999.5" width="58.8" height="7" rx="2" fill="#fff" stroke="#141414" stroke-width="1.64"/>
<rect x="442" y="1016" width="58.8" height="7" rx="2" fill="#fff" stroke="#141414" stroke-width="1.64"/>
<rect x="424.4" y="1008" width="58.6" height="6.6" rx="3" fill="#fff" stroke="#141414" stroke-width="1.52"/>
<line x1="440" y1="1012.6" x2="483" y2="1012.6" stroke="#141414" stroke-width="2.57" />
<line x1="471.3" y1="998" x2="471.3" y2="1026" stroke="#141414" stroke-width="1.4" />
<line x1="487.5" y1="1006.5" x2="487.5" y2="1016" stroke="#141414" stroke-width="1.52" />
<line x1="456" y1="997" x2="456" y2="1024.8" stroke="#141414" stroke-width="1.4" />
<line x1="486.3" y1="997" x2="486.3" y2="1024.8" stroke="#141414" stroke-width="1.4" />
<line x1="994.2" y1="113.1" x2="994.2" y2="1022.4" stroke="#141414" stroke-width="1.75" />
<line x1="983.2" y1="135.6" x2="983.2" y2="194.6" stroke="#141414" stroke-width="1.75" />
<line x1="1005.2" y1="135.6" x2="1005.2" y2="200" stroke="#141414" stroke-width="1.75" />
<line x1="985" y1="135.6" x2="985" y2="194.2" stroke="#141414" stroke-width="1.05" />
<line x1="1003.4" y1="135.6" x2="1003.4" y2="199" stroke="#141414" stroke-width="1.05" />
<line x1="983.2" y1="136" x2="1005.2" y2="136" stroke="#141414" stroke-width="1.64" />
<rect x="986" y="127.8" width="17" height="8.2" rx="2" fill="none" stroke="#141414" stroke-width="1.99"/>
<rect x="987.8" y="130.4" width="5.2" height="3.6" rx="1" fill="none" stroke="#141414" stroke-width="1.05"/>
<rect x="995.6" y="130.4" width="5.4" height="3.6" rx="1" fill="none" stroke="#141414" stroke-width="1.05"/>
<rect x="994.4" y="88.8" width="23" height="24.3" rx="2.0" fill="#fff" stroke="#141414" stroke-width="1.99"/>
<text x="1005.2" y="106.7" font-size="17.8" text-anchor="middle" fill="#34343e" font-weight="normal" textLength="8.8" lengthAdjust="spacingAndGlyphs">Е</text>
<path d="M938.9 848.6 V218.8 A55 25.3 0 0 1 1048.6 218.8 V848.6" fill="none" stroke="#141414" stroke-width="1.87" stroke-linejoin="round" stroke-linecap="round" />
<line x1="938.9" y1="226" x2="1048.6" y2="226" stroke="#141414" stroke-width="2.11" />
<line x1="938.9" y1="511.3" x2="1048.6" y2="511.3" stroke="#141414" stroke-width="1.87" />
<path d="M938.9 848.6 V855.5 A55 24.6 0 0 0 1048.6 855.5 V848.6" fill="none" stroke="#141414" stroke-width="1.75" stroke-linejoin="round" stroke-linecap="round" />
<line x1="938.9" y1="848.6" x2="971.6" y2="848.6" stroke="#141414" stroke-width="1.75" />
<line x1="1017" y1="848.6" x2="1048.6" y2="848.6" stroke="#141414" stroke-width="1.75" />
<rect x="934.6" y="259.8" width="6.2" height="62.3" rx="2" fill="#fff" stroke="#141414" stroke-width="1.64"/>
<rect x="1046.6" y="259.8" width="6.8" height="62.3" rx="2" fill="#fff" stroke="#141414" stroke-width="1.64"/>
<path d="M934.6 270.1 H905.8 A21.05 21.05 0 0 0 905.8 312.2 H934.6" fill="#fff" stroke="#141414" stroke-width="1.75" stroke-linejoin="round" stroke-linecap="round" />
<circle cx="905.8" cy="291.1" r="9.9" fill="none" stroke="#141414" stroke-width="2.34"/>
<line x1="883.3" y1="291.1" x2="928.3" y2="291.1" stroke="#141414" stroke-width="1.4" />
<line x1="905.8" y1="268.6" x2="905.8" y2="313.7" stroke="#141414" stroke-width="1.4" />
<path d="M1053.4 270.1 H1083.6 A21.05 21.05 0 0 1 1083.6 312.2 H1053.4" fill="#fff" stroke="#141414" stroke-width="1.75" stroke-linejoin="round" stroke-linecap="round" />
<circle cx="1083.6" cy="291.1" r="9.9" fill="none" stroke="#141414" stroke-width="2.34"/>
<line x1="1061.1" y1="291.1" x2="1106.1" y2="291.1" stroke="#141414" stroke-width="1.4" />
<line x1="1083.6" y1="268.6" x2="1083.6" y2="313.7" stroke="#141414" stroke-width="1.4" />
<circle cx="994.2" cy="306.3" r="53.4" fill="#fff" stroke="#141414" stroke-width="1.87"/>
<path d="M1044.88 323.48 L1040.28 331.45 L1031.08 331.45 L1026.48 323.48 L1031.08 315.52 L1040.28 315.52 Z" fill="#0a0a0a" stroke="#141414" stroke-width="0.7" stroke-linejoin="round" stroke-linecap="round" />
<path d="M1043.65 328.08 L1035.68 332.68 L1027.71 328.08 L1027.71 318.88 L1035.68 314.28 L1043.65 318.88 Z" fill="#0a0a0a" stroke="#141414" stroke-width="0.7" stroke-linejoin="round" stroke-linecap="round" />
<circle cx="1035.68" cy="323.48" r="8.56" fill="#0a0a0a" stroke="#141414" stroke-width="0.47"/>
<line x1="1033.68" y1="321.98" x2="1037.68" y2="321.98" stroke="#7a7a7a" stroke-width="0.94" />
<line x1="1033.68" y1="324.98" x2="1037.68" y2="324.98" stroke="#7a7a7a" stroke-width="0.94" />
<path d="M1020.58 347.78 L1015.98 355.75 L1006.78 355.75 L1002.18 347.78 L1006.78 339.81 L1015.98 339.81 Z" fill="#0a0a0a" stroke="#141414" stroke-width="0.7" stroke-linejoin="round" stroke-linecap="round" />
<path d="M1019.35 352.38 L1011.38 356.98 L1003.42 352.38 L1003.42 343.18 L1011.38 338.58 L1019.35 343.18 Z" fill="#0a0a0a" stroke="#141414" stroke-width="0.7" stroke-linejoin="round" stroke-linecap="round" />
<circle cx="1011.38" cy="347.78" r="8.56" fill="#0a0a0a" stroke="#141414" stroke-width="0.47"/>
<line x1="1009.38" y1="346.28" x2="1013.38" y2="346.28" stroke="#7a7a7a" stroke-width="0.94" />
<line x1="1009.38" y1="349.28" x2="1013.38" y2="349.28" stroke="#7a7a7a" stroke-width="0.94" />
<path d="M986.22 347.78 L981.62 355.75 L972.42 355.75 L967.82 347.78 L972.42 339.81 L981.62 339.81 Z" fill="#0a0a0a" stroke="#141414" stroke-width="0.7" stroke-linejoin="round" stroke-linecap="round" />
<path d="M984.98 352.38 L977.02 356.98 L969.05 352.38 L969.05 343.18 L977.02 338.58 L984.98 343.18 Z" fill="#0a0a0a" stroke="#141414" stroke-width="0.7" stroke-linejoin="round" stroke-linecap="round" />
<circle cx="977.02" cy="347.78" r="8.56" fill="#0a0a0a" stroke="#141414" stroke-width="0.47"/>
<line x1="975.02" y1="346.28" x2="979.02" y2="346.28" stroke="#7a7a7a" stroke-width="0.94" />
<line x1="975.02" y1="349.28" x2="979.02" y2="349.28" stroke="#7a7a7a" stroke-width="0.94" />
<path d="M961.92 323.48 L957.32 331.45 L948.12 331.45 L943.52 323.48 L948.12 315.52 L957.32 315.52 Z" fill="#0a0a0a" stroke="#141414" stroke-width="0.7" stroke-linejoin="round" stroke-linecap="round" />
<path d="M960.69 328.08 L952.72 332.68 L944.75 328.08 L944.75 318.88 L952.72 314.28 L960.69 318.88 Z" fill="#0a0a0a" stroke="#141414" stroke-width="0.7" stroke-linejoin="round" stroke-linecap="round" />
<circle cx="952.72" cy="323.48" r="8.56" fill="#0a0a0a" stroke="#141414" stroke-width="0.47"/>
<line x1="950.72" y1="321.98" x2="954.72" y2="321.98" stroke="#7a7a7a" stroke-width="0.94" />
<line x1="950.72" y1="324.98" x2="954.72" y2="324.98" stroke="#7a7a7a" stroke-width="0.94" />
<path d="M961.92 289.12 L957.32 297.08 L948.12 297.08 L943.52 289.12 L948.12 281.15 L957.32 281.15 Z" fill="#0a0a0a" stroke="#141414" stroke-width="0.7" stroke-linejoin="round" stroke-linecap="round" />
<path d="M960.69 293.72 L952.72 298.32 L944.75 293.72 L944.75 284.52 L952.72 279.92 L960.69 284.52 Z" fill="#0a0a0a" stroke="#141414" stroke-width="0.7" stroke-linejoin="round" stroke-linecap="round" />
<circle cx="952.72" cy="289.12" r="8.56" fill="#0a0a0a" stroke="#141414" stroke-width="0.47"/>
<line x1="950.72" y1="287.62" x2="954.72" y2="287.62" stroke="#7a7a7a" stroke-width="0.94" />
<line x1="950.72" y1="290.62" x2="954.72" y2="290.62" stroke="#7a7a7a" stroke-width="0.94" />
<path d="M986.22 264.82 L981.62 272.79 L972.42 272.79 L967.82 264.82 L972.42 256.85 L981.62 256.85 Z" fill="#0a0a0a" stroke="#141414" stroke-width="0.7" stroke-linejoin="round" stroke-linecap="round" />
<path d="M984.98 269.42 L977.02 274.02 L969.05 269.42 L969.05 260.22 L977.02 255.62 L984.98 260.22 Z" fill="#0a0a0a" stroke="#141414" stroke-width="0.7" stroke-linejoin="round" stroke-linecap="round" />
<circle cx="977.02" cy="264.82" r="8.56" fill="#0a0a0a" stroke="#141414" stroke-width="0.47"/>
<line x1="975.02" y1="263.32" x2="979.02" y2="263.32" stroke="#7a7a7a" stroke-width="0.94" />
<line x1="975.02" y1="266.32" x2="979.02" y2="266.32" stroke="#7a7a7a" stroke-width="0.94" />
<path d="M1020.58 264.82 L1015.98 272.79 L1006.78 272.79 L1002.18 264.82 L1006.78 256.85 L1015.98 256.85 Z" fill="#0a0a0a" stroke="#141414" stroke-width="0.7" stroke-linejoin="round" stroke-linecap="round" />
<path d="M1019.35 269.42 L1011.38 274.02 L1003.42 269.42 L1003.42 260.22 L1011.38 255.62 L1019.35 260.22 Z" fill="#0a0a0a" stroke="#141414" stroke-width="0.7" stroke-linejoin="round" stroke-linecap="round" />
<circle cx="1011.38" cy="264.82" r="8.56" fill="#0a0a0a" stroke="#141414" stroke-width="0.47"/>
<line x1="1009.38" y1="263.32" x2="1013.38" y2="263.32" stroke="#7a7a7a" stroke-width="0.94" />
<line x1="1009.38" y1="266.32" x2="1013.38" y2="266.32" stroke="#7a7a7a" stroke-width="0.94" />
<path d="M1044.88 289.12 L1040.28 297.08 L1031.08 297.08 L1026.48 289.12 L1031.08 281.15 L1040.28 281.15 Z" fill="#0a0a0a" stroke="#141414" stroke-width="0.7" stroke-linejoin="round" stroke-linecap="round" />
<path d="M1043.65 293.72 L1035.68 298.32 L1027.71 293.72 L1027.71 284.52 L1035.68 279.92 L1043.65 284.52 Z" fill="#0a0a0a" stroke="#141414" stroke-width="0.7" stroke-linejoin="round" stroke-linecap="round" />
<circle cx="1035.68" cy="289.12" r="8.56" fill="#0a0a0a" stroke="#141414" stroke-width="0.47"/>
<line x1="1033.68" y1="287.62" x2="1037.68" y2="287.62" stroke="#7a7a7a" stroke-width="0.94" />
<line x1="1033.68" y1="290.62" x2="1037.68" y2="290.62" stroke="#7a7a7a" stroke-width="0.94" />
<circle cx="994.2" cy="306.3" r="27.3" fill="none" stroke="#141414" stroke-width="1.87"/>
<circle cx="994.2" cy="306.3" r="24.8" fill="none" stroke="#141414" stroke-width="1.05"/>
<circle cx="994.2" cy="306.3" r="22.3" fill="none" stroke="#141414" stroke-width="1.87"/>
<line x1="994.2" y1="240" x2="994.2" y2="372" stroke="#141414" stroke-width="1.75" />
<line x1="938.9" y1="226" x2="938.9" y2="380" stroke="#141414" stroke-width="1.87" />
<line x1="1048.6" y1="226" x2="1048.6" y2="380" stroke="#141414" stroke-width="1.87" />
<line x1="1000.6" y1="263.5" x2="1008.2" y2="247.5" stroke="#141414" stroke-width="1.52" />
<line x1="1025.5" y1="262.5" x2="1030" y2="250" stroke="#141414" stroke-width="1.52" />
<line x1="1041.5" y1="320" x2="1052.5" y2="257" stroke="#141414" stroke-width="0.0" />
<circle cx="1030.8" cy="218.4" r="39.2" fill="#fff" stroke="#141414" stroke-width="2.81"/>
<circle cx="1030.8" cy="218.4" r="24.9" fill="none" stroke="#141414" stroke-width="1.75"/>
<clipPath id="ringhole"><circle cx="1030.8" cy="218.4" r="24.2"/></clipPath>
<g clip-path="url(#ringhole)">
<line x1="1000" y1="225.6" x2="1049" y2="225.6" stroke="#141414" stroke-width="1.99" />
<path d="M1018 195.2 Q1046 203 1049.4 222 V246" fill="none" stroke="#141414" stroke-width="1.75" stroke-linejoin="round" stroke-linecap="round" />
</g>
<line x1="988.6" y1="218.4" x2="1072.6" y2="218.4" stroke="#141414" stroke-width="1.52" />
<line x1="1030.8" y1="176" x2="1030.8" y2="259" stroke="#141414" stroke-width="1.52" />
<path d="M998.5 254 Q1008 262 1022 262.5" fill="none" stroke="#141414" stroke-width="1.4" stroke-linejoin="round" stroke-linecap="round" />
<line x1="938.9" y1="306.3" x2="1150.4" y2="306.3" stroke="#141414" stroke-width="1.75" />
<rect x="1150.6" y="282.2" width="24.9" height="24.1" rx="2.0" fill="#fff" stroke="#141414" stroke-width="1.99"/>
<text x="1162.35" y="299.9" font-size="17.8" text-anchor="middle" fill="#34343e" font-weight="normal" textLength="8.8" lengthAdjust="spacingAndGlyphs">А</text>
<rect x="1037.7" y="423.3" width="50.4" height="57.7" rx="1.5" fill="#fff" stroke="#141414" stroke-width="1.75"/>
<line x1="1048.6" y1="534.4" x2="1048.6" y2="562.5" stroke="#fff" stroke-width="3.51" />
<path d="M1124.7 533.6 H1048.6 L1046.0 548.4 L1048.6 563.3 H1124.7" fill="none" stroke="#141414" stroke-width="1.87" stroke-linejoin="round" stroke-linecap="round" />
<rect x="1124.7" y="529.15" width="13.5" height="38.5" rx="3.2" fill="#fff" stroke="#141414" stroke-width="2.46"/>
<line x1="1124.7" y1="537.88" x2="1138.2" y2="537.88" stroke="#141414" stroke-width="1.4" />
<line x1="1124.7" y1="539.67" x2="1138.2" y2="539.67" stroke="#141414" stroke-width="1.4" />
<line x1="1124.7" y1="557.12" x2="1138.2" y2="557.12" stroke="#141414" stroke-width="1.4" />
<line x1="1124.7" y1="558.92" x2="1138.2" y2="558.92" stroke="#141414" stroke-width="1.4" />
<rect x="1128.3" y="543.2" width="6.3" height="10.39" rx="0.8" fill="none" stroke="#141414" stroke-width="1.4"/>
<line x1="1038.7" y1="548.4" x2="1191" y2="548.4" stroke="#333" stroke-width="1.64" />
<rect x="1191.2" y="523.7" width="33.4" height="25.1" rx="2.0" fill="#fff" stroke="#141414" stroke-width="1.99"/>
<text x="1207.2" y="542.4" font-size="17.8" text-anchor="middle" fill="#34343e" font-weight="normal" textLength="20.5" lengthAdjust="spacingAndGlyphs">Ж2</text>
<line x1="1048.6" y1="784.1" x2="1048.6" y2="812.9" stroke="#fff" stroke-width="3.51" />
<path d="M1124.7 783.3 H1048.6 L1046.0 798.5 L1048.6 813.7 H1124.7" fill="none" stroke="#141414" stroke-width="1.87" stroke-linejoin="round" stroke-linecap="round" />
<rect x="1124.7" y="779" width="13.5" height="39" rx="3.2" fill="#fff" stroke="#141414" stroke-width="2.46"/>
<line x1="1124.7" y1="787.85" x2="1138.2" y2="787.85" stroke="#141414" stroke-width="1.4" />
<line x1="1124.7" y1="789.65" x2="1138.2" y2="789.65" stroke="#141414" stroke-width="1.4" />
<line x1="1124.7" y1="807.35" x2="1138.2" y2="807.35" stroke="#141414" stroke-width="1.4" />
<line x1="1124.7" y1="809.15" x2="1138.2" y2="809.15" stroke="#141414" stroke-width="1.4" />
<rect x="1128.3" y="793.24" width="6.3" height="10.53" rx="0.8" fill="none" stroke="#141414" stroke-width="1.4"/>
<line x1="1038.7" y1="798.5" x2="1158.7" y2="798.5" stroke="#333" stroke-width="1.64" />
<rect x="1158.9" y="773.4" width="31.5" height="25.1" rx="2.0" fill="#fff" stroke="#141414" stroke-width="1.99"/>
<text x="1173.95" y="792.1" font-size="17.8" text-anchor="middle" fill="#34343e" font-weight="normal" textLength="20.5" lengthAdjust="spacingAndGlyphs">Ж1</text>
<rect x="934.6" y="660.1" width="6.2" height="61.9" rx="2" fill="#fff" stroke="#141414" stroke-width="1.64"/>
<path d="M934.6 670.6 H905.8 A20.75 20.75 0 0 0 905.8 712.1 H934.6" fill="#fff" stroke="#141414" stroke-width="1.75" stroke-linejoin="round" stroke-linecap="round" />
<circle cx="905.8" cy="691.1" r="9.9" fill="none" stroke="#141414" stroke-width="2.34"/>
<line x1="883.3" y1="691.1" x2="928.3" y2="691.1" stroke="#141414" stroke-width="1.4" />
<line x1="905.8" y1="669.1" x2="905.8" y2="713.6" stroke="#141414" stroke-width="1.4" />
<circle cx="994.2" cy="670.6" r="53.2" fill="#fff" stroke="#141414" stroke-width="1.87"/>
<path d="M1044.88 687.78 L1040.28 695.75 L1031.08 695.75 L1026.48 687.78 L1031.08 679.82 L1040.28 679.82 Z" fill="#0a0a0a" stroke="#141414" stroke-width="0.7" stroke-linejoin="round" stroke-linecap="round" />
<path d="M1043.65 692.38 L1035.68 696.98 L1027.71 692.38 L1027.71 683.18 L1035.68 678.58 L1043.65 683.18 Z" fill="#0a0a0a" stroke="#141414" stroke-width="0.7" stroke-linejoin="round" stroke-linecap="round" />
<circle cx="1035.68" cy="687.78" r="8.56" fill="#0a0a0a" stroke="#141414" stroke-width="0.47"/>
<line x1="1033.68" y1="686.28" x2="1037.68" y2="686.28" stroke="#7a7a7a" stroke-width="0.94" />
<line x1="1033.68" y1="689.28" x2="1037.68" y2="689.28" stroke="#7a7a7a" stroke-width="0.94" />
<path d="M1020.58 712.08 L1015.98 720.05 L1006.78 720.05 L1002.18 712.08 L1006.78 704.11 L1015.98 704.11 Z" fill="#0a0a0a" stroke="#141414" stroke-width="0.7" stroke-linejoin="round" stroke-linecap="round" />
<path d="M1019.35 716.68 L1011.38 721.28 L1003.42 716.68 L1003.42 707.48 L1011.38 702.88 L1019.35 707.48 Z" fill="#0a0a0a" stroke="#141414" stroke-width="0.7" stroke-linejoin="round" stroke-linecap="round" />
<circle cx="1011.38" cy="712.08" r="8.56" fill="#0a0a0a" stroke="#141414" stroke-width="0.47"/>
<line x1="1009.38" y1="710.58" x2="1013.38" y2="710.58" stroke="#7a7a7a" stroke-width="0.94" />
<line x1="1009.38" y1="713.58" x2="1013.38" y2="713.58" stroke="#7a7a7a" stroke-width="0.94" />
<path d="M986.22 712.08 L981.62 720.05 L972.42 720.05 L967.82 712.08 L972.42 704.11 L981.62 704.11 Z" fill="#0a0a0a" stroke="#141414" stroke-width="0.7" stroke-linejoin="round" stroke-linecap="round" />
<path d="M984.98 716.68 L977.02 721.28 L969.05 716.68 L969.05 707.48 L977.02 702.88 L984.98 707.48 Z" fill="#0a0a0a" stroke="#141414" stroke-width="0.7" stroke-linejoin="round" stroke-linecap="round" />
<circle cx="977.02" cy="712.08" r="8.56" fill="#0a0a0a" stroke="#141414" stroke-width="0.47"/>
<line x1="975.02" y1="710.58" x2="979.02" y2="710.58" stroke="#7a7a7a" stroke-width="0.94" />
<line x1="975.02" y1="713.58" x2="979.02" y2="713.58" stroke="#7a7a7a" stroke-width="0.94" />
<path d="M961.92 687.78 L957.32 695.75 L948.12 695.75 L943.52 687.78 L948.12 679.82 L957.32 679.82 Z" fill="#0a0a0a" stroke="#141414" stroke-width="0.7" stroke-linejoin="round" stroke-linecap="round" />
<path d="M960.69 692.38 L952.72 696.98 L944.75 692.38 L944.75 683.18 L952.72 678.58 L960.69 683.18 Z" fill="#0a0a0a" stroke="#141414" stroke-width="0.7" stroke-linejoin="round" stroke-linecap="round" />
<circle cx="952.72" cy="687.78" r="8.56" fill="#0a0a0a" stroke="#141414" stroke-width="0.47"/>
<line x1="950.72" y1="686.28" x2="954.72" y2="686.28" stroke="#7a7a7a" stroke-width="0.94" />
<line x1="950.72" y1="689.28" x2="954.72" y2="689.28" stroke="#7a7a7a" stroke-width="0.94" />
<path d="M961.92 653.42 L957.32 661.38 L948.12 661.38 L943.52 653.42 L948.12 645.45 L957.32 645.45 Z" fill="#0a0a0a" stroke="#141414" stroke-width="0.7" stroke-linejoin="round" stroke-linecap="round" />
<path d="M960.69 658.02 L952.72 662.62 L944.75 658.02 L944.75 648.82 L952.72 644.22 L960.69 648.82 Z" fill="#0a0a0a" stroke="#141414" stroke-width="0.7" stroke-linejoin="round" stroke-linecap="round" />
<circle cx="952.72" cy="653.42" r="8.56" fill="#0a0a0a" stroke="#141414" stroke-width="0.47"/>
<line x1="950.72" y1="651.92" x2="954.72" y2="651.92" stroke="#7a7a7a" stroke-width="0.94" />
<line x1="950.72" y1="654.92" x2="954.72" y2="654.92" stroke="#7a7a7a" stroke-width="0.94" />
<path d="M986.22 629.12 L981.62 637.09 L972.42 637.09 L967.82 629.12 L972.42 621.15 L981.62 621.15 Z" fill="#0a0a0a" stroke="#141414" stroke-width="0.7" stroke-linejoin="round" stroke-linecap="round" />
<path d="M984.98 633.72 L977.02 638.32 L969.05 633.72 L969.05 624.52 L977.02 619.92 L984.98 624.52 Z" fill="#0a0a0a" stroke="#141414" stroke-width="0.7" stroke-linejoin="round" stroke-linecap="round" />
<circle cx="977.02" cy="629.12" r="8.56" fill="#0a0a0a" stroke="#141414" stroke-width="0.47"/>
<line x1="975.02" y1="627.62" x2="979.02" y2="627.62" stroke="#7a7a7a" stroke-width="0.94" />
<line x1="975.02" y1="630.62" x2="979.02" y2="630.62" stroke="#7a7a7a" stroke-width="0.94" />
<path d="M1020.58 629.12 L1015.98 637.09 L1006.78 637.09 L1002.18 629.12 L1006.78 621.15 L1015.98 621.15 Z" fill="#0a0a0a" stroke="#141414" stroke-width="0.7" stroke-linejoin="round" stroke-linecap="round" />
<path d="M1019.35 633.72 L1011.38 638.32 L1003.42 633.72 L1003.42 624.52 L1011.38 619.92 L1019.35 624.52 Z" fill="#0a0a0a" stroke="#141414" stroke-width="0.7" stroke-linejoin="round" stroke-linecap="round" />
<circle cx="1011.38" cy="629.12" r="8.56" fill="#0a0a0a" stroke="#141414" stroke-width="0.47"/>
<line x1="1009.38" y1="627.62" x2="1013.38" y2="627.62" stroke="#7a7a7a" stroke-width="0.94" />
<line x1="1009.38" y1="630.62" x2="1013.38" y2="630.62" stroke="#7a7a7a" stroke-width="0.94" />
<path d="M1044.88 653.42 L1040.28 661.38 L1031.08 661.38 L1026.48 653.42 L1031.08 645.45 L1040.28 645.45 Z" fill="#0a0a0a" stroke="#141414" stroke-width="0.7" stroke-linejoin="round" stroke-linecap="round" />
<path d="M1043.65 658.02 L1035.68 662.62 L1027.71 658.02 L1027.71 648.82 L1035.68 644.22 L1043.65 648.82 Z" fill="#0a0a0a" stroke="#141414" stroke-width="0.7" stroke-linejoin="round" stroke-linecap="round" />
<circle cx="1035.68" cy="653.42" r="8.56" fill="#0a0a0a" stroke="#141414" stroke-width="0.47"/>
<line x1="1033.68" y1="651.92" x2="1037.68" y2="651.92" stroke="#7a7a7a" stroke-width="0.94" />
<line x1="1033.68" y1="654.92" x2="1037.68" y2="654.92" stroke="#7a7a7a" stroke-width="0.94" />
<line x1="936.5" y1="670.6" x2="1050.5" y2="670.6" stroke="#141414" stroke-width="1.75" />
<line x1="994.2" y1="610" x2="994.2" y2="730" stroke="#141414" stroke-width="1.75" />
<line x1="938.9" y1="600" x2="938.9" y2="740" stroke="#141414" stroke-width="1.87" />
<line x1="1048.6" y1="600" x2="1048.6" y2="740" stroke="#141414" stroke-width="1.87" />
<line x1="922.1" y1="614.9" x2="994.2" y2="670.6" stroke="#141414" stroke-width="1.52" />
<rect x="896.6" y="590.6" width="25.5" height="24.1" rx="2.0" fill="#fff" stroke="#141414" stroke-width="1.99"/>
<text x="908.65" y="608.3" font-size="17.8" text-anchor="middle" fill="#34343e" font-weight="normal" textLength="9.5" lengthAdjust="spacingAndGlyphs">Ж</text>
<path d="M962.0 732.8 Q994.2 737.2 1027.0 732.8" fill="none" stroke="#141414" stroke-width="1.52" stroke-linejoin="round" stroke-linecap="round" />
<path d="M962.0 732.8 Q959.6 733.4 960.0 736.2 L994.2 747.4 L1028.3 736.2 Q1028.8 733.4 1027.0 732.8" fill="none" stroke="#141414" stroke-width="1.64" stroke-linejoin="round" stroke-linecap="round" />
<path d="M961.6 734.4 L994.2 745.4 L1026.8 734.4" fill="none" stroke="#141414" stroke-width="1.17" stroke-linejoin="round" stroke-linecap="round" />
<path d="M964.8 738.6 L994.2 748.4 L1023.6 738.6" fill="none" stroke="#444" stroke-width="1.17" stroke-linejoin="round" stroke-linecap="round" />
<line x1="965.6" y1="739.5" x2="965.6" y2="818.3" stroke="#141414" stroke-width="1.4" />
<line x1="1024.9" y1="739.5" x2="1024.9" y2="818.3" stroke="#141414" stroke-width="1.4" />
<line x1="965.6" y1="818.3" x2="971.6" y2="818.3" stroke="#141414" stroke-width="1.4" />
<line x1="1017" y1="818.3" x2="1024.9" y2="818.3" stroke="#141414" stroke-width="1.4" />
<line x1="971.6" y1="741.5" x2="971.6" y2="1022.4" stroke="#141414" stroke-width="1.75" />
<line x1="1017" y1="741.5" x2="1017" y2="1022.4" stroke="#141414" stroke-width="1.75" />
<rect x="961.1" y="1022.4" width="66.6" height="9.3" rx="2" fill="#fff" stroke="#141414" stroke-width="1.75"/>
<line x1="986.5" y1="879.6" x2="986.5" y2="912" stroke="#141414" stroke-width="1.52" />
<line x1="1002.7" y1="880.6" x2="1002.7" y2="912" stroke="#141414" stroke-width="1.52" />
<line x1="986.5" y1="912" x2="1002.7" y2="912" stroke="#141414" stroke-width="1.52" />
<path d="M986.5 912.0 Q986.5 922.7 975.2 922.7 H890.3" fill="none" stroke="#141414" stroke-width="1.64" stroke-linejoin="round" stroke-linecap="round" />
<path d="M994.0 912.0 Q994.0 930.8 975.2 930.8 H890.3" fill="none" stroke="#141414" stroke-width="1.52" stroke-linejoin="round" stroke-linecap="round" />
<path d="M1002.7 912.0 Q1002.7 938.3 975.2 938.3 H890.3" fill="none" stroke="#141414" stroke-width="1.64" stroke-linejoin="round" stroke-linecap="round" />
<rect x="972" y="922.7" width="3.2" height="15.6" rx="0" fill="#222" stroke="#141414" stroke-width="0.94"/>
<path d="M972.0 878.4 Q978 875.4 984 876.0 Q990 876.6 994 879.0 Q1005 882.6 1016.5 878.6" fill="none" stroke="#141414" stroke-width="1.75" stroke-linejoin="round" stroke-linecap="round" />
<path d="M972.0 949.0 Q980 945.6 989 947.2 Q1003 952.8 1016.5 948.6" fill="none" stroke="#141414" stroke-width="1.87" stroke-linejoin="round" stroke-linecap="round" />
<line x1="972" y1="878.4" x2="972" y2="949" stroke="#141414" stroke-width="2.57" />
<line x1="1016.5" y1="878.6" x2="1016.5" y2="948.6" stroke="#141414" stroke-width="2.57" />
<rect x="965.6" y="964.6" width="23.8" height="16.6" rx="8" fill="#fff" stroke="#141414" stroke-width="1.87"/>
<rect x="971.4" y="965" width="12" height="15.8" rx="4.5" fill="#1a1a1a" stroke="#141414" stroke-width="1.17"/>
<line x1="975" y1="967" x2="975" y2="979" stroke="#777" stroke-width="0.82" />
<line x1="979.8" y1="967" x2="979.8" y2="979" stroke="#777" stroke-width="0.82" />
<path d="M1017.0 966.0 Q1023.6 967.4 1023.6 973 Q1023.6 978.6 1017.0 980.0" fill="#222" stroke="#141414" stroke-width="1.75" stroke-linejoin="round" stroke-linecap="round" />
<line x1="816.1" y1="922.6" x2="872.5" y2="922.6" stroke="#141414" stroke-width="1.64" />
<line x1="816.1" y1="939.4" x2="872.5" y2="939.4" stroke="#141414" stroke-width="1.64" />
<line x1="816.1" y1="924.6" x2="872.5" y2="924.6" stroke="#141414" stroke-width="0.94" />
<line x1="816.1" y1="937.4" x2="872.5" y2="937.4" stroke="#141414" stroke-width="0.94" />
<path d="M872.5 910.7 L867 910.7 Q863.92 911.82 861.5 916.3 Q863.92 920.78 867 921.9 L872.5 921.9 Z" fill="#0d0d0d" stroke="#141414" stroke-width="1.4" stroke-linejoin="round" stroke-linecap="round" />
<rect x="866.91" y="912.49" width="3.61" height="2.69" rx="0.8" fill="#fff" stroke="none" stroke-width="0.0"/>
<rect x="866.91" y="917.42" width="3.61" height="2.69" rx="0.8" fill="#fff" stroke="none" stroke-width="0.0"/>
<path d="M890.3 910.7 L895.8 910.7 Q898.88 911.82 901.3 916.3 Q898.88 920.78 895.8 921.9 L890.3 921.9 Z" fill="#0d0d0d" stroke="#141414" stroke-width="1.4" stroke-linejoin="round" stroke-linecap="round" />
<rect x="892.28" y="912.49" width="3.61" height="2.69" rx="0.8" fill="#fff" stroke="none" stroke-width="0.0"/>
<rect x="892.28" y="917.42" width="3.61" height="2.69" rx="0.8" fill="#fff" stroke="none" stroke-width="0.0"/>
<path d="M872.5 941.1 L867 941.1 Q863.92 942.22 861.5 946.7 Q863.92 951.18 867 952.3 L872.5 952.3 Z" fill="#0d0d0d" stroke="#141414" stroke-width="1.4" stroke-linejoin="round" stroke-linecap="round" />
<rect x="866.91" y="942.89" width="3.61" height="2.69" rx="0.8" fill="#fff" stroke="none" stroke-width="0.0"/>
<rect x="866.91" y="947.82" width="3.61" height="2.69" rx="0.8" fill="#fff" stroke="none" stroke-width="0.0"/>
<path d="M890.3 941.1 L895.8 941.1 Q898.88 942.22 901.3 946.7 Q898.88 951.18 895.8 952.3 L890.3 952.3 Z" fill="#0d0d0d" stroke="#141414" stroke-width="1.4" stroke-linejoin="round" stroke-linecap="round" />
<rect x="892.28" y="942.89" width="3.61" height="2.69" rx="0.8" fill="#fff" stroke="none" stroke-width="0.0"/>
<rect x="892.28" y="947.82" width="3.61" height="2.69" rx="0.8" fill="#fff" stroke="none" stroke-width="0.0"/>
<rect x="872.5" y="901.8" width="6.9" height="58" rx="2" fill="#fff" stroke="#141414" stroke-width="1.75"/>
<rect x="882.8" y="901.8" width="7.5" height="58" rx="2" fill="#fff" stroke="#141414" stroke-width="1.75"/>
<line x1="872.5" y1="916.3" x2="890.3" y2="916.3" stroke="#141414" stroke-width="1.52" />
<line x1="872.5" y1="946.7" x2="890.3" y2="946.7" stroke="#141414" stroke-width="1.52" />
<path d="M791.4 910.7 L785.9 910.7 Q782.82 911.82 780.4 916.3 Q782.82 920.78 785.9 921.9 L791.4 921.9 Z" fill="#0d0d0d" stroke="#141414" stroke-width="1.4" stroke-linejoin="round" stroke-linecap="round" />
<rect x="785.81" y="912.49" width="3.61" height="2.69" rx="0.8" fill="#fff" stroke="none" stroke-width="0.0"/>
<rect x="785.81" y="917.42" width="3.61" height="2.69" rx="0.8" fill="#fff" stroke="none" stroke-width="0.0"/>
<path d="M816.1 910.7 L821.6 910.7 Q824.68 911.82 827.1 916.3 Q824.68 920.78 821.6 921.9 L816.1 921.9 Z" fill="#0d0d0d" stroke="#141414" stroke-width="1.4" stroke-linejoin="round" stroke-linecap="round" />
<rect x="818.08" y="912.49" width="3.61" height="2.69" rx="0.8" fill="#fff" stroke="none" stroke-width="0.0"/>
<rect x="818.08" y="917.42" width="3.61" height="2.69" rx="0.8" fill="#fff" stroke="none" stroke-width="0.0"/>
<path d="M791.4 941.1 L785.9 941.1 Q782.82 942.22 780.4 946.7 Q782.82 951.18 785.9 952.3 L791.4 952.3 Z" fill="#0d0d0d" stroke="#141414" stroke-width="1.4" stroke-linejoin="round" stroke-linecap="round" />
<rect x="785.81" y="942.89" width="3.61" height="2.69" rx="0.8" fill="#fff" stroke="none" stroke-width="0.0"/>
<rect x="785.81" y="947.82" width="3.61" height="2.69" rx="0.8" fill="#fff" stroke="none" stroke-width="0.0"/>
<path d="M816.1 941.1 L821.6 941.1 Q824.68 942.22 827.1 946.7 Q824.68 951.18 821.6 952.3 L816.1 952.3 Z" fill="#0d0d0d" stroke="#141414" stroke-width="1.4" stroke-linejoin="round" stroke-linecap="round" />
<rect x="818.08" y="942.89" width="3.61" height="2.69" rx="0.8" fill="#fff" stroke="none" stroke-width="0.0"/>
<rect x="818.08" y="947.82" width="3.61" height="2.69" rx="0.8" fill="#fff" stroke="none" stroke-width="0.0"/>
<rect x="791.4" y="901.8" width="7.5" height="58" rx="2" fill="#fff" stroke="#141414" stroke-width="1.75"/>
<rect x="809.2" y="901.8" width="6.9" height="58" rx="2" fill="#fff" stroke="#141414" stroke-width="1.75"/>
<line x1="791.4" y1="916.3" x2="816.1" y2="916.3" stroke="#141414" stroke-width="1.52" />
<line x1="791.4" y1="946.7" x2="816.1" y2="946.7" stroke="#141414" stroke-width="1.52" />
<line x1="881.1" y1="906" x2="881.1" y2="956" stroke="#141414" stroke-width="2.11" />
<path d="M800.4 946 V886 Q800.4 883 803 883 H805.6 Q808.2 883 808.2 886 V946 Z" fill="#fff" stroke="#141414" stroke-width="1.64" stroke-linejoin="round" stroke-linecap="round" />
<line x1="804.3" y1="886" x2="804.3" y2="944" stroke="#141414" stroke-width="2.11" />
<line x1="800.4" y1="942" x2="808.2" y2="942" stroke="#141414" stroke-width="1.4" />
<rect x="833.9" y="889.4" width="20.8" height="28.8" rx="2.5" fill="#fff" stroke="#141414" stroke-width="1.75"/>
<path d="M838.9 918.2 V956.2 Q838.9 957 840 957 H848 Q849.1 957 849.1 956.2 V918.2" fill="#fff" stroke="#141414" stroke-width="1.64" stroke-linejoin="round" stroke-linecap="round" />
<path d="M838.9 922.6 Q842.5 931 838.9 939.4" fill="none" stroke="#141414" stroke-width="1.17" stroke-linejoin="round" stroke-linecap="round" />
<path d="M849.1 922.6 Q845.5 931 849.1 939.4" fill="none" stroke="#141414" stroke-width="1.17" stroke-linejoin="round" stroke-linecap="round" />
<line x1="772.6" y1="931.1" x2="818" y2="931.1" stroke="#333" stroke-width="1.52" />
<line x1="870" y1="931.1" x2="880" y2="931.1" stroke="#141414" stroke-width="1.4" />
<rect x="747.1" y="906.4" width="25.5" height="24.7" rx="2.0" fill="#fff" stroke="#141414" stroke-width="1.99"/>
<text x="759.15" y="924.7" font-size="17.8" text-anchor="middle" fill="#34343e" font-weight="normal" textLength="8.8" lengthAdjust="spacingAndGlyphs">В</text>
<rect x="914.4" y="900.1" width="4.4" height="56.4" rx="2" fill="none" stroke="#141414" stroke-width="1.52"/>
<rect x="936" y="776.3" width="6.6" height="49.5" rx="0" fill="#fff" stroke="#141414" stroke-width="1.52"/>
<line x1="934" y1="786" x2="934" y2="818" stroke="#141414" stroke-width="2.11" />
<line x1="939.3" y1="778" x2="939.3" y2="824" stroke="#555" stroke-width="1.29" />
<line x1="935.4" y1="817" x2="916.4" y2="901.5" stroke="#6a6a6a" stroke-width="3.98" />
<line x1="935.4" y1="817" x2="916.4" y2="901.5" stroke="#0e0e0e" stroke-width="3.98" stroke-dasharray="2.0 1.7"/>
<path d="M450.3 1121.8 L450.3 1116.4 Q451.42 1113.38 455.9 1111 Q460.38 1113.38 461.5 1116.4 L461.5 1121.8 Z" fill="#0d0d0d" stroke="#141414" stroke-width="1.4" stroke-linejoin="round" stroke-linecap="round" />
<rect x="452.09" y="1116.31" width="2.69" height="3.54" rx="0.8" fill="#fff" stroke="none" stroke-width="0.0"/>
<rect x="457.02" y="1116.31" width="2.69" height="3.54" rx="0.8" fill="#fff" stroke="none" stroke-width="0.0"/>
<path d="M450.3 1139.9 L450.3 1145.3 Q451.42 1148.32 455.9 1150.7 Q460.38 1148.32 461.5 1145.3 L461.5 1139.9 Z" fill="#0d0d0d" stroke="#141414" stroke-width="1.4" stroke-linejoin="round" stroke-linecap="round" />
<rect x="452.09" y="1141.85" width="2.69" height="3.54" rx="0.8" fill="#fff" stroke="none" stroke-width="0.0"/>
<rect x="457.02" y="1141.85" width="2.69" height="3.54" rx="0.8" fill="#fff" stroke="none" stroke-width="0.0"/>
<path d="M480.8 1121.8 L480.8 1116.4 Q481.92 1113.38 486.4 1111 Q490.88 1113.38 492 1116.4 L492 1121.8 Z" fill="#0d0d0d" stroke="#141414" stroke-width="1.4" stroke-linejoin="round" stroke-linecap="round" />
<rect x="482.59" y="1116.31" width="2.69" height="3.54" rx="0.8" fill="#fff" stroke="none" stroke-width="0.0"/>
<rect x="487.52" y="1116.31" width="2.69" height="3.54" rx="0.8" fill="#fff" stroke="none" stroke-width="0.0"/>
<path d="M480.8 1139.9 L480.8 1145.3 Q481.92 1148.32 486.4 1150.7 Q490.88 1148.32 492 1145.3 L492 1139.9 Z" fill="#0d0d0d" stroke="#141414" stroke-width="1.4" stroke-linejoin="round" stroke-linecap="round" />
<rect x="482.59" y="1141.85" width="2.69" height="3.54" rx="0.8" fill="#fff" stroke="none" stroke-width="0.0"/>
<rect x="487.52" y="1141.85" width="2.69" height="3.54" rx="0.8" fill="#fff" stroke="none" stroke-width="0.0"/>
<rect x="464.2" y="1108" width="15.6" height="13.8" rx="0" fill="#fff" stroke="#141414" stroke-width="1.4"/>
<line x1="451.5" y1="1110.2" x2="491" y2="1103.6" stroke="#141414" stroke-width="1.52" />
<line x1="452.5" y1="1111.8" x2="458.5" y2="1110.8" stroke="#141414" stroke-width="1.87" />
<rect x="441.9" y="1121.8" width="59.3" height="7.1" rx="2" fill="#fff" stroke="#141414" stroke-width="1.75"/>
<rect x="441.9" y="1132.5" width="59.3" height="7.4" rx="2" fill="#fff" stroke="#141414" stroke-width="1.75"/>
<line x1="446" y1="1130.7" x2="497" y2="1130.7" stroke="#141414" stroke-width="1.99" />
<line x1="455.9" y1="1121.8" x2="455.9" y2="1139.9" stroke="#141414" stroke-width="1.52" />
<line x1="486.4" y1="1121.8" x2="486.4" y2="1139.9" stroke="#141414" stroke-width="1.52" />
<line x1="462.5" y1="1139.9" x2="462.5" y2="1164.7" stroke="#141414" stroke-width="1.75" />
<line x1="480.6" y1="1139.9" x2="480.6" y2="1164.7" stroke="#141414" stroke-width="1.75" />
<line x1="465.4" y1="1139.9" x2="465.4" y2="1164.7" stroke="#141414" stroke-width="1.05" />
<line x1="477.6" y1="1139.9" x2="477.6" y2="1164.7" stroke="#141414" stroke-width="1.05" />
<rect x="458.4" y="1164.7" width="25.5" height="18.1" rx="0" fill="#fff" stroke="#141414" stroke-width="1.75"/>
<line x1="458.4" y1="1182.8" x2="453.6" y2="1190.5" stroke="#141414" stroke-width="1.52" />
<line x1="483.9" y1="1182.8" x2="488.8" y2="1190.5" stroke="#141414" stroke-width="1.52" />
<line x1="469" y1="1140" x2="469" y2="1188" stroke="#141414" stroke-width="1.87" />
<path d="M435.7 1280 V1334.2 Q435.7 1336.2 437.7 1336.2 H504.4 Q506.4 1336.2 506.4 1334.2 V1280" fill="none" stroke="#141414" stroke-width="2.11" stroke-linejoin="round" stroke-linecap="round" />
<line x1="439.5" y1="1335.9" x2="502.5" y2="1335.9" stroke="#141414" stroke-width="2.69" />
<line x1="437.4" y1="1285" x2="437.4" y2="1335" stroke="#141414" stroke-width="1.05" />
<line x1="504.6" y1="1285" x2="504.6" y2="1335" stroke="#141414" stroke-width="1.05" />
<circle cx="440.2" cy="1336.2" r="1.9" fill="#141414" stroke="#141414" stroke-width="0.7"/>
<circle cx="502" cy="1336.2" r="1.9" fill="#141414" stroke="#141414" stroke-width="0.7"/>
<line x1="455.7" y1="1290" x2="455.7" y2="1375.7" stroke="#141414" stroke-width="1.75" />
<line x1="487.9" y1="1290" x2="487.9" y2="1375.7" stroke="#141414" stroke-width="1.75" />
<line x1="458.2" y1="1290" x2="458.2" y2="1375.7" stroke="#141414" stroke-width="1.05" />
<line x1="485.4" y1="1290" x2="485.4" y2="1375.7" stroke="#141414" stroke-width="1.05" />
<rect x="453.1" y="1375.7" width="36.1" height="11.3" rx="3" fill="#fff" stroke="#141414" stroke-width="1.99"/>
<path d="M456.5 1297.6 L471.3 1302.0 L487.0 1297.6" fill="none" stroke="#141414" stroke-width="1.05" stroke-linejoin="round" stroke-linecap="round" />
<path d="M469.6 1296 V1351 Q469.6 1352.4 471.3 1352.4 Q473.0 1352.4 473.0 1351 V1296" fill="none" stroke="#141414" stroke-width="1.52" stroke-linejoin="round" stroke-linecap="round" />
<line x1="369.7" y1="1210.8" x2="428" y2="1210.8" stroke="#141414" stroke-width="1.75" />
<line x1="369.7" y1="1215.8" x2="421.5" y2="1215.8" stroke="#141414" stroke-width="1.52" />
<path d="M414.5 1215.8 L417.5 1218 L420.5 1215.8" fill="none" stroke="#141414" stroke-width="1.29" stroke-linejoin="round" stroke-linecap="round" />
<line x1="369.7" y1="1275.9" x2="428" y2="1275.9" stroke="#141414" stroke-width="1.75" />
<line x1="369.7" y1="1271.2" x2="421.5" y2="1271.2" stroke="#141414" stroke-width="1.52" />
<path d="M414.5 1271.2 L417.5 1269 L420.5 1271.2" fill="none" stroke="#141414" stroke-width="1.29" stroke-linejoin="round" stroke-linecap="round" />
<path d="M347.8 1196 V1318 Q347.8 1320.4 350.2 1320.4 H355.2 Q357.6 1320.4 357.6 1318 V1196" fill="#fff" stroke="#141414" stroke-width="1.75" stroke-linejoin="round" stroke-linecap="round" />
<path d="M335.4 1195.6 L329.6 1195.6 Q326.35 1196.84 323.8 1201.8 Q326.35 1206.76 329.6 1208 L335.4 1208 Z" fill="#0d0d0d" stroke="#141414" stroke-width="1.4" stroke-linejoin="round" stroke-linecap="round" />
<rect x="329.5" y="1197.58" width="3.8" height="2.98" rx="0.8" fill="#fff" stroke="none" stroke-width="0.0"/>
<rect x="329.5" y="1203.04" width="3.8" height="2.98" rx="0.8" fill="#fff" stroke="none" stroke-width="0.0"/>
<path d="M369.7 1195.6 L375.5 1195.6 Q378.75 1196.84 381.3 1201.8 Q378.75 1206.76 375.5 1208 L369.7 1208 Z" fill="#0d0d0d" stroke="#141414" stroke-width="1.4" stroke-linejoin="round" stroke-linecap="round" />
<rect x="371.79" y="1197.58" width="3.8" height="2.98" rx="0.8" fill="#fff" stroke="none" stroke-width="0.0"/>
<rect x="371.79" y="1203.04" width="3.8" height="2.98" rx="0.8" fill="#fff" stroke="none" stroke-width="0.0"/>
<path d="M335.4 1220.2 L329.6 1220.2 Q326.35 1221.44 323.8 1226.4 Q326.35 1231.36 329.6 1232.6 L335.4 1232.6 Z" fill="#0d0d0d" stroke="#141414" stroke-width="1.4" stroke-linejoin="round" stroke-linecap="round" />
<rect x="329.5" y="1222.18" width="3.8" height="2.98" rx="0.8" fill="#fff" stroke="none" stroke-width="0.0"/>
<rect x="329.5" y="1227.64" width="3.8" height="2.98" rx="0.8" fill="#fff" stroke="none" stroke-width="0.0"/>
<path d="M369.7 1220.2 L375.5 1220.2 Q378.75 1221.44 381.3 1226.4 Q378.75 1231.36 375.5 1232.6 L369.7 1232.6 Z" fill="#0d0d0d" stroke="#141414" stroke-width="1.4" stroke-linejoin="round" stroke-linecap="round" />
<rect x="371.79" y="1222.18" width="3.8" height="2.98" rx="0.8" fill="#fff" stroke="none" stroke-width="0.0"/>
<rect x="371.79" y="1227.64" width="3.8" height="2.98" rx="0.8" fill="#fff" stroke="none" stroke-width="0.0"/>
<path d="M335.4 1254.8 L329.6 1254.8 Q326.35 1256.04 323.8 1261 Q326.35 1265.96 329.6 1267.2 L335.4 1267.2 Z" fill="#0d0d0d" stroke="#141414" stroke-width="1.4" stroke-linejoin="round" stroke-linecap="round" />
<rect x="329.5" y="1256.78" width="3.8" height="2.98" rx="0.8" fill="#fff" stroke="none" stroke-width="0.0"/>
<rect x="329.5" y="1262.24" width="3.8" height="2.98" rx="0.8" fill="#fff" stroke="none" stroke-width="0.0"/>
<path d="M369.7 1254.8 L375.5 1254.8 Q378.75 1256.04 381.3 1261 Q378.75 1265.96 375.5 1267.2 L369.7 1267.2 Z" fill="#0d0d0d" stroke="#141414" stroke-width="1.4" stroke-linejoin="round" stroke-linecap="round" />
<rect x="371.79" y="1256.78" width="3.8" height="2.98" rx="0.8" fill="#fff" stroke="none" stroke-width="0.0"/>
<rect x="371.79" y="1262.24" width="3.8" height="2.98" rx="0.8" fill="#fff" stroke="none" stroke-width="0.0"/>
<path d="M335.4 1278.8 L329.6 1278.8 Q326.35 1280.04 323.8 1285 Q326.35 1289.96 329.6 1291.2 L335.4 1291.2 Z" fill="#0d0d0d" stroke="#141414" stroke-width="1.4" stroke-linejoin="round" stroke-linecap="round" />
<rect x="329.5" y="1280.78" width="3.8" height="2.98" rx="0.8" fill="#fff" stroke="none" stroke-width="0.0"/>
<rect x="329.5" y="1286.24" width="3.8" height="2.98" rx="0.8" fill="#fff" stroke="none" stroke-width="0.0"/>
<path d="M369.7 1278.8 L375.5 1278.8 Q378.75 1280.04 381.3 1285 Q378.75 1289.96 375.5 1291.2 L369.7 1291.2 Z" fill="#0d0d0d" stroke="#141414" stroke-width="1.4" stroke-linejoin="round" stroke-linecap="round" />
<rect x="371.79" y="1280.78" width="3.8" height="2.98" rx="0.8" fill="#fff" stroke="none" stroke-width="0.0"/>
<rect x="371.79" y="1286.24" width="3.8" height="2.98" rx="0.8" fill="#fff" stroke="none" stroke-width="0.0"/>
<rect x="335.4" y="1190.2" width="10.9" height="108" rx="1" fill="#fff" stroke="#141414" stroke-width="1.64"/>
<rect x="358.6" y="1190.2" width="11.1" height="108" rx="1" fill="#fff" stroke="#141414" stroke-width="1.64"/>
<line x1="335.4" y1="1201.8" x2="369.7" y2="1201.8" stroke="#141414" stroke-width="1.75" />
<line x1="335.4" y1="1226.4" x2="369.7" y2="1226.4" stroke="#141414" stroke-width="1.75" />
<line x1="335.4" y1="1261" x2="369.7" y2="1261" stroke="#141414" stroke-width="1.75" />
<line x1="335.4" y1="1285" x2="369.7" y2="1285" stroke="#141414" stroke-width="1.75" />
<rect x="347.8" y="1196" width="9.8" height="102" rx="0" fill="#fff" stroke="#141414" stroke-width="1.4"/>
<line x1="354.5" y1="1196" x2="354.5" y2="1318" stroke="#141414" stroke-width="1.99" />
<rect x="350.6" y="1191" width="4.2" height="6.6" rx="1" fill="#fff" stroke="#141414" stroke-width="1.29"/>
<rect x="346.6" y="1199.8" width="12.2" height="4" rx="0" fill="#fff" stroke="#141414" stroke-width="1.17"/>
<line x1="346.6" y1="1201.8" x2="358.8" y2="1201.8" stroke="#141414" stroke-width="1.52" />
<rect x="346.6" y="1224.4" width="12.2" height="4" rx="0" fill="#fff" stroke="#141414" stroke-width="1.17"/>
<line x1="346.6" y1="1226.4" x2="358.8" y2="1226.4" stroke="#141414" stroke-width="1.52" />
<rect x="346.6" y="1259" width="12.2" height="4" rx="0" fill="#fff" stroke="#141414" stroke-width="1.17"/>
<line x1="346.6" y1="1261" x2="358.8" y2="1261" stroke="#141414" stroke-width="1.52" />
<rect x="346.6" y="1283" width="12.2" height="4" rx="0" fill="#fff" stroke="#141414" stroke-width="1.17"/>
<line x1="346.6" y1="1285" x2="358.8" y2="1285" stroke="#141414" stroke-width="1.52" />
<line x1="572.9" y1="1210.8" x2="514.6" y2="1210.8" stroke="#141414" stroke-width="1.75" />
<line x1="572.9" y1="1215.8" x2="521.1" y2="1215.8" stroke="#141414" stroke-width="1.52" />
<path d="M528.1 1215.8 L525.1 1218 L522.1 1215.8" fill="none" stroke="#141414" stroke-width="1.29" stroke-linejoin="round" stroke-linecap="round" />
<line x1="572.9" y1="1275.9" x2="514.6" y2="1275.9" stroke="#141414" stroke-width="1.75" />
<line x1="572.9" y1="1271.2" x2="521.1" y2="1271.2" stroke="#141414" stroke-width="1.52" />
<path d="M528.1 1271.2 L525.1 1269 L522.1 1271.2" fill="none" stroke="#141414" stroke-width="1.29" stroke-linejoin="round" stroke-linecap="round" />
<path d="M585.6 1196 V1318 Q585.6 1320.4 588 1320.4 H592.4 Q594.8 1320.4 594.8 1318 V1196" fill="#fff" stroke="#141414" stroke-width="1.75" stroke-linejoin="round" stroke-linecap="round" />
<path d="M573.2 1195.6 L567.4 1195.6 Q564.15 1196.84 561.6 1201.8 Q564.15 1206.76 567.4 1208 L573.2 1208 Z" fill="#0d0d0d" stroke="#141414" stroke-width="1.4" stroke-linejoin="round" stroke-linecap="round" />
<rect x="567.3" y="1197.58" width="3.8" height="2.98" rx="0.8" fill="#fff" stroke="none" stroke-width="0.0"/>
<rect x="567.3" y="1203.04" width="3.8" height="2.98" rx="0.8" fill="#fff" stroke="none" stroke-width="0.0"/>
<path d="M607.3 1195.6 L613.1 1195.6 Q616.35 1196.84 618.9 1201.8 Q616.35 1206.76 613.1 1208 L607.3 1208 Z" fill="#0d0d0d" stroke="#141414" stroke-width="1.4" stroke-linejoin="round" stroke-linecap="round" />
<rect x="609.39" y="1197.58" width="3.8" height="2.98" rx="0.8" fill="#fff" stroke="none" stroke-width="0.0"/>
<rect x="609.39" y="1203.04" width="3.8" height="2.98" rx="0.8" fill="#fff" stroke="none" stroke-width="0.0"/>
<path d="M573.2 1220.2 L567.4 1220.2 Q564.15 1221.44 561.6 1226.4 Q564.15 1231.36 567.4 1232.6 L573.2 1232.6 Z" fill="#0d0d0d" stroke="#141414" stroke-width="1.4" stroke-linejoin="round" stroke-linecap="round" />
<rect x="567.3" y="1222.18" width="3.8" height="2.98" rx="0.8" fill="#fff" stroke="none" stroke-width="0.0"/>
<rect x="567.3" y="1227.64" width="3.8" height="2.98" rx="0.8" fill="#fff" stroke="none" stroke-width="0.0"/>
<path d="M607.3 1220.2 L613.1 1220.2 Q616.35 1221.44 618.9 1226.4 Q616.35 1231.36 613.1 1232.6 L607.3 1232.6 Z" fill="#0d0d0d" stroke="#141414" stroke-width="1.4" stroke-linejoin="round" stroke-linecap="round" />
<rect x="609.39" y="1222.18" width="3.8" height="2.98" rx="0.8" fill="#fff" stroke="none" stroke-width="0.0"/>
<rect x="609.39" y="1227.64" width="3.8" height="2.98" rx="0.8" fill="#fff" stroke="none" stroke-width="0.0"/>
<path d="M573.2 1254.8 L567.4 1254.8 Q564.15 1256.04 561.6 1261 Q564.15 1265.96 567.4 1267.2 L573.2 1267.2 Z" fill="#0d0d0d" stroke="#141414" stroke-width="1.4" stroke-linejoin="round" stroke-linecap="round" />
<rect x="567.3" y="1256.78" width="3.8" height="2.98" rx="0.8" fill="#fff" stroke="none" stroke-width="0.0"/>
<rect x="567.3" y="1262.24" width="3.8" height="2.98" rx="0.8" fill="#fff" stroke="none" stroke-width="0.0"/>
<path d="M607.3 1254.8 L613.1 1254.8 Q616.35 1256.04 618.9 1261 Q616.35 1265.96 613.1 1267.2 L607.3 1267.2 Z" fill="#0d0d0d" stroke="#141414" stroke-width="1.4" stroke-linejoin="round" stroke-linecap="round" />
<rect x="609.39" y="1256.78" width="3.8" height="2.98" rx="0.8" fill="#fff" stroke="none" stroke-width="0.0"/>
<rect x="609.39" y="1262.24" width="3.8" height="2.98" rx="0.8" fill="#fff" stroke="none" stroke-width="0.0"/>
<path d="M573.2 1278.8 L567.4 1278.8 Q564.15 1280.04 561.6 1285 Q564.15 1289.96 567.4 1291.2 L573.2 1291.2 Z" fill="#0d0d0d" stroke="#141414" stroke-width="1.4" stroke-linejoin="round" stroke-linecap="round" />
<rect x="567.3" y="1280.78" width="3.8" height="2.98" rx="0.8" fill="#fff" stroke="none" stroke-width="0.0"/>
<rect x="567.3" y="1286.24" width="3.8" height="2.98" rx="0.8" fill="#fff" stroke="none" stroke-width="0.0"/>
<path d="M607.3 1278.8 L613.1 1278.8 Q616.35 1280.04 618.9 1285 Q616.35 1289.96 613.1 1291.2 L607.3 1291.2 Z" fill="#0d0d0d" stroke="#141414" stroke-width="1.4" stroke-linejoin="round" stroke-linecap="round" />
<rect x="609.39" y="1280.78" width="3.8" height="2.98" rx="0.8" fill="#fff" stroke="none" stroke-width="0.0"/>
<rect x="609.39" y="1286.24" width="3.8" height="2.98" rx="0.8" fill="#fff" stroke="none" stroke-width="0.0"/>
<rect x="573.2" y="1190.2" width="10.8" height="108" rx="1" fill="#fff" stroke="#141414" stroke-width="1.64"/>
<rect x="596.5" y="1190.2" width="10.8" height="108" rx="1" fill="#fff" stroke="#141414" stroke-width="1.64"/>
<line x1="573.2" y1="1201.8" x2="607.3" y2="1201.8" stroke="#141414" stroke-width="1.75" />
<line x1="573.2" y1="1226.4" x2="607.3" y2="1226.4" stroke="#141414" stroke-width="1.75" />
<line x1="573.2" y1="1261" x2="607.3" y2="1261" stroke="#141414" stroke-width="1.75" />
<line x1="573.2" y1="1285" x2="607.3" y2="1285" stroke="#141414" stroke-width="1.75" />
<rect x="585.6" y="1196" width="9.2" height="102" rx="0" fill="#fff" stroke="#141414" stroke-width="1.4"/>
<line x1="588.4" y1="1196" x2="588.4" y2="1318" stroke="#141414" stroke-width="1.99" />
<rect x="584.4" y="1199.8" width="11.6" height="4" rx="0" fill="#fff" stroke="#141414" stroke-width="1.17"/>
<line x1="584.4" y1="1201.8" x2="596" y2="1201.8" stroke="#141414" stroke-width="1.52" />
<rect x="584.4" y="1224.4" width="11.6" height="4" rx="0" fill="#fff" stroke="#141414" stroke-width="1.17"/>
<line x1="584.4" y1="1226.4" x2="596" y2="1226.4" stroke="#141414" stroke-width="1.52" />
<rect x="584.4" y="1259" width="11.6" height="4" rx="0" fill="#fff" stroke="#141414" stroke-width="1.17"/>
<line x1="584.4" y1="1261" x2="596" y2="1261" stroke="#141414" stroke-width="1.52" />
<rect x="584.4" y="1283" width="11.6" height="4" rx="0" fill="#fff" stroke="#141414" stroke-width="1.17"/>
<line x1="584.4" y1="1285" x2="596" y2="1285" stroke="#141414" stroke-width="1.52" />
<circle cx="471.3" cy="1243.2" r="54.9" fill="#fff" stroke="#141414" stroke-width="1.87"/>
<line x1="333.6" y1="1243.2" x2="626.4" y2="1243.2" stroke="#141414" stroke-width="1.64" />
<line x1="471.3" y1="1096.6" x2="471.3" y2="1388.8" stroke="#141414" stroke-width="1.75" />
<line x1="417.5" y1="1243.2" x2="431.5" y2="1243.2" stroke="#141414" stroke-width="2.34" />
<line x1="511" y1="1243.2" x2="525" y2="1243.2" stroke="#141414" stroke-width="2.34" />
<circle cx="471.3" cy="1243.2" r="9.2" fill="none" stroke="#141414" stroke-width="3.51"/>
<rect x="471" y="1072.5" width="25.2" height="24.1" rx="2.0" fill="#fff" stroke="#141414" stroke-width="1.99"/>
<text x="482.9" y="1090.2" font-size="17.8" text-anchor="middle" fill="#34343e" font-weight="normal" textLength="8.8" lengthAdjust="spacingAndGlyphs">В</text>
<line x1="423.6" y1="1174.1" x2="466" y2="1237.6" stroke="#141414" stroke-width="1.52" />
<rect x="400.5" y="1150.4" width="23.1" height="23.7" rx="2.0" fill="#fff" stroke="#141414" stroke-width="1.99"/>
<text x="411.35" y="1167.7" font-size="17.8" text-anchor="middle" fill="#34343e" font-weight="normal" textLength="8.8" lengthAdjust="spacingAndGlyphs">Е</text>
<rect x="626.6" y="1218.6" width="23.6" height="25.2" rx="2.0" fill="#fff" stroke="#141414" stroke-width="1.99"/>
<text x="637.7" y="1237.4" font-size="17.8" text-anchor="middle" fill="#34343e" font-weight="normal" textLength="8.8" lengthAdjust="spacingAndGlyphs">Г</text>
<rect x="650.2" y="1218.6" width="23.8" height="25.2" rx="2.0" fill="#fff" stroke="#141414" stroke-width="1.99"/>
<text x="661.4" y="1237.4" font-size="17.8" text-anchor="middle" fill="#34343e" font-weight="normal" textLength="8.8" lengthAdjust="spacingAndGlyphs">Б</text>
<line x1="309.1" y1="1280.2" x2="335.4" y2="1280.2" stroke="#141414" stroke-width="1.52" />
<rect x="259.2" y="1255.8" width="24.7" height="24.4" rx="2.0" fill="#fff" stroke="#141414" stroke-width="1.99"/>
<text x="270.85" y="1273.8" font-size="17.8" text-anchor="middle" fill="#34343e" font-weight="normal" textLength="8.8" lengthAdjust="spacingAndGlyphs">А</text>
<rect x="283.9" y="1255.8" width="25.2" height="24.4" rx="2.0" fill="#fff" stroke="#141414" stroke-width="1.99"/>
<text x="295.8" y="1273.8" font-size="17.8" text-anchor="middle" fill="#34343e" font-weight="normal" textLength="8.8" lengthAdjust="spacingAndGlyphs">Д</text>
<line x1="471.3" y1="1387.4" x2="536.7" y2="1434.5" stroke="#141414" stroke-width="1.52" />
<rect x="536.9" y="1409.8" width="33.3" height="24.7" rx="2.0" fill="#fff" stroke="#141414" stroke-width="1.99"/>
<text x="552.85" y="1428.1" font-size="17.8" text-anchor="middle" fill="#34343e" font-weight="normal" textLength="20.5" lengthAdjust="spacingAndGlyphs">Ж2</text>
<rect x="570.2" y="1409.8" width="31.6" height="24.7" rx="2.0" fill="#fff" stroke="#141414" stroke-width="1.99"/>
<text x="585.3" y="1428.1" font-size="17.8" text-anchor="middle" fill="#34343e" font-weight="normal" textLength="19.5" lengthAdjust="spacingAndGlyphs">Ж1</text>
<defs>
<linearGradient id="gBody" x1="0" x2="1" y1="0" y2="0">
 <stop offset="0" stop-color="#8fa9a6"/><stop offset="0.03" stop-color="#a3bcb8"/><stop offset="0.13" stop-color="#b8d1cf"/>
 <stop offset="0.3" stop-color="#c1dbd9"/><stop offset="0.52" stop-color="#c6dfde"/><stop offset="0.78" stop-color="#d0e9ea"/>
 <stop offset="0.88" stop-color="#c5dde0"/><stop offset="0.96" stop-color="#a8c1c5"/><stop offset="1" stop-color="#8da7ab"/></linearGradient>
<linearGradient id="gTube" x1="0" x2="1" y1="0" y2="0">
 <stop offset="0" stop-color="#a9bfc3"/><stop offset="0.3" stop-color="#cfe3e6"/><stop offset="0.6" stop-color="#d6eaed"/>
 <stop offset="1" stop-color="#a3b9bd"/></linearGradient>
<linearGradient id="gPipeH" x1="0" x2="0.14" y1="0" y2="1">
 <stop offset="0" stop-color="#b4cace"/><stop offset="0.2" stop-color="#c9dee2"/><stop offset="0.62" stop-color="#e0f4f6"/>
 <stop offset="0.85" stop-color="#cfe4e8"/><stop offset="1" stop-color="#b2c8cc"/></linearGradient>
<radialGradient id="gHead" cx="0.45" cy="0.25" r="0.8">
 <stop offset="0" stop-color="#cfe3e6"/><stop offset="0.6" stop-color="#c0d5d8"/><stop offset="1" stop-color="#a5bbbf"/></radialGradient>
<linearGradient id="gFace" x1="0" x2="1" y1="0" y2="1">
 <stop offset="0" stop-color="#d4ebf0"/><stop offset="1" stop-color="#cbe4e9"/></linearGradient>
<radialGradient id="gBolt" cx="0.6" cy="0.45" r="0.7">
 <stop offset="0" stop-color="#f4fbfb"/><stop offset="0.45" stop-color="#dbe7e7"/><stop offset="1" stop-color="#9fb0b1"/></radialGradient>
</defs>
<ellipse cx="1590" cy="441.32" rx="37" ry="45" fill="#a9c1c3" stroke="#5f7478" stroke-width="0.9" transform="rotate(4 1590 441.32)"/>
<ellipse cx="1594.12" cy="440.71" rx="37" ry="45" fill="none" stroke="#7d9195" stroke-width="0.6" transform="rotate(4 1594.12 440.71)"/>
<ellipse cx="1592.75" cy="440.91" rx="37" ry="45" fill="none" stroke="#7d9195" stroke-width="0.6" transform="rotate(4 1592.75 440.91)"/>
<ellipse cx="1591.38" cy="441.12" rx="37" ry="45" fill="none" stroke="#7d9195" stroke-width="0.6" transform="rotate(4 1591.38 441.12)"/>
<ellipse cx="1595.5" cy="440.5" rx="37" ry="45" fill="url(#gFace)" stroke="#5f7478" stroke-width="0.9" transform="rotate(4 1595.5 440.5)"/>
<ellipse cx="1595.5" cy="440.5" rx="21.5" ry="28" fill="#a9c1c3" stroke="#5f7478" stroke-width="0.9" transform="rotate(4 1595.5 440.5)"/>
<clipPath id="rh1595"><ellipse cx="1595.5" cy="440.5" rx="21.5" ry="28" transform="rotate(4 1595.5 440.5)"/></clipPath>
<g clip-path="url(#rh1595)">
<ellipse cx="1591.1" cy="441.16" rx="21.5" ry="28" fill="#fff" stroke="#5f7478" stroke-width="0.8" transform="rotate(4 1591.1 441.16)"/>
</g>
<ellipse cx="1595.5" cy="440.5" rx="21.5" ry="28" fill="none" stroke="#5f7478" stroke-width="0.9" transform="rotate(4 1595.5 440.5)"/>
<ellipse cx="1551.4" cy="538.2" rx="54" ry="61.4" fill="#a9c2bf" stroke="#5f7478" stroke-width="0.9" transform="rotate(2 1551.4 538.2)"/>
<ellipse cx="1554" cy="538.3" rx="54" ry="61.4" fill="none" stroke="#7d9397" stroke-width="0.6" transform="rotate(2 1554 538.3)"/>
<ellipse cx="1557.9" cy="538.5" rx="54" ry="61.4" fill="#cfe6ea" stroke="#5f7478" stroke-width="0.9" transform="rotate(2 1557.9 538.5)"/>
<ellipse cx="1563.9" cy="538.8" rx="54" ry="61.4" fill="#a9c2bf" stroke="#5f7478" stroke-width="0.9" transform="rotate(2 1563.9 538.8)"/>
<ellipse cx="1566.9" cy="539" rx="54" ry="61.4" fill="none" stroke="#7d9397" stroke-width="0.6" transform="rotate(2 1566.9 539)"/>
<ellipse cx="1570.8" cy="539.2" rx="54" ry="61.4" fill="url(#gFace)" stroke="#5f7478" stroke-width="0.9" transform="rotate(2 1570.8 539.2)"/>
<ellipse cx="1582" cy="545" rx="37" ry="43" fill="#bcd4d6" stroke="#5f7478" stroke-width="0.7" transform="rotate(2 1582 545)"/>
<ellipse cx="1498.6" cy="522" rx="1.6" ry="3.4" fill="#8fa5a7" stroke="#4a5c5f" stroke-width="0.7" />
<ellipse cx="1498.8" cy="560" rx="1.6" ry="3.4" fill="#8fa5a7" stroke="#4a5c5f" stroke-width="0.7" />
<path d="M1559.3 497.7 L1555.1 505.27 L1546.7 505.27 L1542.5 497.7 L1546.7 490.13 L1555.1 490.13 Z" fill="#8c9fa1" stroke="#3f4d50" stroke-width="1.2" stroke-linejoin="round" stroke-linecap="round" />
<ellipse cx="1550.9" cy="497.7" rx="7.81" ry="8.15" fill="#8c9fa1" stroke="#3f4d50" stroke-width="0.9" />
<ellipse cx="1553" cy="498.75" rx="5.88" ry="6.38" fill="#a9babb" stroke="#4a5a5d" stroke-width="0.9" />
<ellipse cx="1555.4" cy="499.95" rx="4.7" ry="5.21" fill="#b9c8c8" stroke="#56676a" stroke-width="0.8" />
<ellipse cx="1556.9" cy="500.7" rx="3.7" ry="4.2" fill="url(#gBolt)" stroke="#5c6d70" stroke-width="0.7" />
<path d="M1535.3 526.3 L1531.1 533.87 L1522.7 533.87 L1518.5 526.3 L1522.7 518.73 L1531.1 518.73 Z" fill="#8c9fa1" stroke="#3f4d50" stroke-width="1.2" stroke-linejoin="round" stroke-linecap="round" />
<ellipse cx="1526.9" cy="526.3" rx="7.81" ry="8.15" fill="#8c9fa1" stroke="#3f4d50" stroke-width="0.9" />
<ellipse cx="1529" cy="527.35" rx="5.88" ry="6.38" fill="#a9babb" stroke="#4a5a5d" stroke-width="0.9" />
<ellipse cx="1531.4" cy="528.55" rx="4.7" ry="5.21" fill="#b9c8c8" stroke="#56676a" stroke-width="0.8" />
<ellipse cx="1532.9" cy="529.3" rx="3.7" ry="4.2" fill="url(#gBolt)" stroke="#5c6d70" stroke-width="0.7" />
<path d="M1560.2 589.9 L1556 597.47 L1547.6 597.47 L1543.4 589.9 L1547.6 582.33 L1556 582.33 Z" fill="#8c9fa1" stroke="#3f4d50" stroke-width="1.2" stroke-linejoin="round" stroke-linecap="round" />
<ellipse cx="1551.8" cy="589.9" rx="7.81" ry="8.15" fill="#8c9fa1" stroke="#3f4d50" stroke-width="0.9" />
<ellipse cx="1553.9" cy="590.95" rx="5.88" ry="6.38" fill="#a9babb" stroke="#4a5a5d" stroke-width="0.9" />
<ellipse cx="1556.3" cy="592.15" rx="4.7" ry="5.21" fill="#b9c8c8" stroke="#56676a" stroke-width="0.8" />
<ellipse cx="1557.8" cy="592.9" rx="3.7" ry="4.2" fill="url(#gBolt)" stroke="#5c6d70" stroke-width="0.7" />
<ellipse cx="1556.9" cy="940.6" rx="26" ry="30.6" fill="#a9c2bf" stroke="#5f7478" stroke-width="0.9" transform="rotate(2 1556.9 940.6)"/>
<ellipse cx="1559.4" cy="940.7" rx="26" ry="30.6" fill="none" stroke="#7d9397" stroke-width="0.6" transform="rotate(2 1559.4 940.7)"/>
<ellipse cx="1561.9" cy="940.9" rx="26" ry="30.6" fill="#cfe6ea" stroke="#5f7478" stroke-width="0.9" transform="rotate(2 1561.9 940.9)"/>
<ellipse cx="1566.1" cy="941.1" rx="26" ry="30.6" fill="url(#gFace)" stroke="#5f7478" stroke-width="0.9" transform="rotate(2 1566.1 941.1)"/>
<ellipse cx="1568.5" cy="944" rx="8.5" ry="11" fill="#bcd4d6" stroke="#5f7478" stroke-width="0.7" />
<path d="M1560.6 931.4 L1557.5 936.98 L1551.3 936.98 L1548.2 931.4 L1551.3 925.82 L1557.5 925.82 Z" fill="#8c9fa1" stroke="#3f4d50" stroke-width="1.2" stroke-linejoin="round" stroke-linecap="round" />
<ellipse cx="1554.4" cy="931.4" rx="5.77" ry="6.01" fill="#8c9fa1" stroke="#3f4d50" stroke-width="0.9" />
<ellipse cx="1555.59" cy="931.96" rx="4.34" ry="4.71" fill="#a9babb" stroke="#4a5a5d" stroke-width="0.9" />
<ellipse cx="1556.95" cy="932.6" rx="3.47" ry="3.84" fill="#b9c8c8" stroke="#56676a" stroke-width="0.8" />
<ellipse cx="1557.8" cy="933" rx="2.73" ry="3.1" fill="url(#gBolt)" stroke="#5c6d70" stroke-width="0.7" />
<path d="M1560.6 962.7 L1557.5 968.28 L1551.3 968.28 L1548.2 962.7 L1551.3 957.12 L1557.5 957.12 Z" fill="#8c9fa1" stroke="#3f4d50" stroke-width="1.2" stroke-linejoin="round" stroke-linecap="round" />
<ellipse cx="1554.4" cy="962.7" rx="5.77" ry="6.01" fill="#8c9fa1" stroke="#3f4d50" stroke-width="0.9" />
<ellipse cx="1555.59" cy="963.26" rx="4.34" ry="4.71" fill="#a9babb" stroke="#4a5a5d" stroke-width="0.9" />
<ellipse cx="1556.95" cy="963.9" rx="3.47" ry="3.84" fill="#b9c8c8" stroke="#56676a" stroke-width="0.8" />
<ellipse cx="1557.8" cy="964.3" rx="2.73" ry="3.1" fill="url(#gBolt)" stroke="#5c6d70" stroke-width="0.7" />
<ellipse cx="1752.4" cy="811.6" rx="9.4" ry="21.6" fill="#a9c1c3" stroke="#5f7478" stroke-width="0.9" transform="rotate(7 1752.4 811.6)"/>
<ellipse cx="1754.6" cy="811.4" rx="9.4" ry="21.6" fill="#b7cdd1" stroke="#5f7478" stroke-width="0.9" transform="rotate(7 1754.6 811.4)"/>
<path d="M1753 790.4 L1760.6 789.4 L1767.6 797 L1772.8 806.2 L1773.4 820.6 L1768.4 829.8 L1759.6 832.8 L1754 831 L1760 822 L1761 803 Z" fill="#bcd5dc" stroke="#5f7478" stroke-width="0.9" stroke-linejoin="round" stroke-linecap="round" />
<path d="M1762.4 803 L1772.6 806.2 L1773.2 820.6 L1763 823.8 Z" fill="#d9f0f4" stroke="#5f7478" stroke-width="0.7" stroke-linejoin="round" stroke-linecap="round" />
<path d="M1756 791 L1762.6 791.6 L1771.4 803.6 L1762.4 803 Z" fill="#b4ced6" stroke="#5f7478" stroke-width="0.7" stroke-linejoin="round" stroke-linecap="round" />
<path d="M1763 823.8 L1772.8 821.6 L1768 830 L1758.6 832.4 Z" fill="#c5dde2" stroke="#5f7478" stroke-width="0.7" stroke-linejoin="round" stroke-linecap="round" />
<line x1="1751.6" y1="790" x2="1761" y2="789" stroke="#26343a" stroke-width="1.4" />
<ellipse cx="1749" cy="811.7" rx="9" ry="16.4" fill="url(#gPipeH)" stroke="#5f7478" stroke-width="0.8" transform="rotate(7 1749 811.7)"/>
<path d="M1680 804.6 L1749 795.2 L1749 827.6 L1680 837.9 Z" fill="url(#gPipeH)" stroke="#5f7478" stroke-width="0.0" stroke-linejoin="round" stroke-linecap="round" />
<line x1="1680" y1="804.6" x2="1749" y2="795.2" stroke="#5f7478" stroke-width="0.9" />
<line x1="1680" y1="837.9" x2="1749" y2="827.6" stroke="#5f7478" stroke-width="0.9" />
<ellipse cx="1749.8" cy="1075" rx="9.4" ry="21.6" fill="#a9c1c3" stroke="#5f7478" stroke-width="0.9" transform="rotate(7 1749.8 1075)"/>
<ellipse cx="1752" cy="1074.8" rx="9.4" ry="21.6" fill="#b7cdd1" stroke="#5f7478" stroke-width="0.9" transform="rotate(7 1752 1074.8)"/>
<path d="M1750.4 1053.8 L1758 1052.8 L1765 1060.4 L1770.2 1069.6 L1770.8 1084 L1765.8 1093.2 L1757 1096.2 L1751.4 1094.4 L1757.4 1085.4 L1758.4 1066.4 Z" fill="#bcd5dc" stroke="#5f7478" stroke-width="0.9" stroke-linejoin="round" stroke-linecap="round" />
<path d="M1759.8 1066.4 L1770 1069.6 L1770.6 1084 L1760.4 1087.2 Z" fill="#d9f0f4" stroke="#5f7478" stroke-width="0.7" stroke-linejoin="round" stroke-linecap="round" />
<path d="M1753.4 1054.4 L1760 1055 L1768.8 1067 L1759.8 1066.4 Z" fill="#b4ced6" stroke="#5f7478" stroke-width="0.7" stroke-linejoin="round" stroke-linecap="round" />
<path d="M1760.4 1087.2 L1770.2 1085 L1765.4 1093.4 L1756 1095.8 Z" fill="#c5dde2" stroke="#5f7478" stroke-width="0.7" stroke-linejoin="round" stroke-linecap="round" />
<line x1="1749" y1="1053.4" x2="1758.4" y2="1052.4" stroke="#26343a" stroke-width="1.4" />
<ellipse cx="1746.4" cy="1076.4" rx="9" ry="16.7" fill="url(#gPipeH)" stroke="#5f7478" stroke-width="0.8" transform="rotate(7 1746.4 1076.4)"/>
<path d="M1680 1069.5 L1746.4 1059.6 L1746.4 1092.6 L1680 1103.6 Z" fill="url(#gPipeH)" stroke="#5f7478" stroke-width="0.0" stroke-linejoin="round" stroke-linecap="round" />
<line x1="1680" y1="1069.5" x2="1746.4" y2="1059.6" stroke="#5f7478" stroke-width="0.9" />
<line x1="1680" y1="1103.6" x2="1746.4" y2="1092.6" stroke="#5f7478" stroke-width="0.9" />
<path d="M1687.2 674.8 L1696.5 673.8 L1734.5 688 L1733.5 689.2 L1687.7 695.6 Z" fill="#a9c1c3" stroke="#5f7478" stroke-width="0.9" stroke-linejoin="round" stroke-linecap="round" />
<path d="M1695.6 677.5 L1728.5 689 L1695.8 693.6 Z" fill="#9eb4b8" stroke="#5f7478" stroke-width="0.7" stroke-linejoin="round" stroke-linecap="round" />
<path d="M1687.7 695.6 L1733.5 689.1 L1733.5 751 L1687.7 757.2 Z" fill="#d3ebef" stroke="#5f7478" stroke-width="0.9" stroke-linejoin="round" stroke-linecap="round" />
<path d="M1532.7 1299.6 L1574.6 1290.2 L1632.7 1311.6 L1572 1325.3 Z" fill="#728886" stroke="#5f7478" stroke-width="0.9" stroke-linejoin="round" stroke-linecap="round" />
<path d="M1532.7 1299.6 L1572 1325.3 L1572 1330.4 L1532.7 1304.6 Z" fill="#b5cfd0" stroke="#5f7478" stroke-width="0.9" stroke-linejoin="round" stroke-linecap="round" />
<path d="M1572 1325.3 L1632.7 1311.6 L1632.7 1316.6 L1572 1330.4 Z" fill="#d4eef3" stroke="#5f7478" stroke-width="0.9" stroke-linejoin="round" stroke-linecap="round" />
<ellipse cx="1568.6" cy="1296.7" rx="3.6" ry="1.7" fill="#fff" stroke="#5f7478" stroke-width="0.6" />
<ellipse cx="1592.5" cy="1310.9" rx="3.6" ry="1.7" fill="#9aacb0" stroke="#5f7478" stroke-width="0.6" />
<path d="M1573.6 1150 L1584.8 1156 L1584.8 1300.5 L1573.6 1316.5 Z" fill="#93a7ab" stroke="#5f7478" stroke-width="0.9" stroke-linejoin="round" stroke-linecap="round" />
<path d="M1584.8 1156 L1615.6 1150 L1615.6 1305.5 L1584.8 1300.5 Z" fill="#c2dadc" stroke="#5f7478" stroke-width="0.9" stroke-linejoin="round" stroke-linecap="round" />
<path d="M1576.4 1160 L1579.2 1161 L1579.2 1309 L1576.4 1312.6 Z" fill="#c2dadc" stroke="#5f7478" stroke-width="0.6" stroke-linejoin="round" stroke-linecap="round" />
<line x1="1589.5" y1="1185" x2="1589.5" y2="1300" stroke="#d6eaed" stroke-width="2.0" />
<rect x="1614.2" y="368.6" width="23.4" height="71.4" rx="0" fill="url(#gTube)" stroke="#5f7478" stroke-width="0.9"/>
<ellipse cx="1625.9" cy="368.8" rx="11.7" ry="2.6" fill="#c2dadc" stroke="#5f7478" stroke-width="0.9" />
<rect x="1615.2" y="360" width="21.4" height="7.4" rx="1.5" fill="url(#gTube)" stroke="#5f7478" stroke-width="0.9"/>
<ellipse cx="1625.9" cy="360.4" rx="10.7" ry="2.2" fill="#d3ebef" stroke="#5f7478" stroke-width="0.9" />
<ellipse cx="1625.9" cy="360.6" rx="7.6" ry="1.4" fill="#8ea4a8" stroke="#5f7478" stroke-width="0.6" />
<path d="M1563.0 466 V1160 Q1563.0 1166 1571 1170 Q1625 1196 1686.9 1166 V466 Z" fill="url(#gBody)" stroke="#5f7478" stroke-width="0.9" stroke-linejoin="round" stroke-linecap="round" />
<path d="M1570.5 1168.5 Q1574 1180 1598 1188.5 Q1625 1194.5 1650 1189 L1650 1172 Q1610 1184 1570.5 1168.5 Z" fill="#c9dcd9" stroke="#5f7478" stroke-width="0.9" stroke-linejoin="round" stroke-linecap="round" />
<path d="M1569.0 1160.5 Q1612 1181 1660 1166" fill="none" stroke="#5f7478" stroke-width="0.8" stroke-linejoin="round" stroke-linecap="round" />
<path d="M1569.6 1165.4 Q1612 1186 1660 1171" fill="none" stroke="#5f7478" stroke-width="0.8" stroke-linejoin="round" stroke-linecap="round" />
<path d="M1563.0 469.5 C1562.6 458.5 1566.5 452.5 1581.3 445.2 C1596 438.6 1612 434.6 1626.4 434.6 C1642 434.6 1660 440.6 1671.5 446.5 C1683.5 453.4 1686.6 460.5 1686.9 470.3 Q1660 481.8 1625 481.6 Q1590 481.4 1563.0 469.5 Z" fill="url(#gHead)" stroke="#5f7478" stroke-width="0.9" stroke-linejoin="round" stroke-linecap="round" />
<path d="M1563.0 469.5 Q1590 479.6 1625.2 479.6 Q1662 479.6 1686.9 470.3" fill="none" stroke="#5f7478" stroke-width="0.8" stroke-linejoin="round" stroke-linecap="round" />
<path d="M1563.0 472.9 Q1590 483.2 1625.2 483.2 Q1662 483.2 1686.9 473.7" fill="none" stroke="#5f7478" stroke-width="0.8" stroke-linejoin="round" stroke-linecap="round" />
<path d="M1563.0 471.2 Q1590 481.4 1625.2 481.4 Q1662 481.4 1686.9 472.0" fill="none" stroke="#d9ecee" stroke-width="1.3" stroke-linejoin="round" stroke-linecap="round" />
<ellipse cx="1593.9" cy="464" rx="5.5" ry="1.5" fill="#e6f5f6" stroke="none" stroke-width="0.0" />
<ellipse cx="1625.2" cy="472.6" rx="6" ry="1.5" fill="#e6f5f6" stroke="none" stroke-width="0.0" />
<ellipse cx="1666.5" cy="470.6" rx="4" ry="1.2" fill="#dff0f2" stroke="none" stroke-width="0.0" />
<path d="M1614.2 436.2 Q1625.9 440.4 1637.6 436.2" fill="none" stroke="#5f7478" stroke-width="0.8" stroke-linejoin="round" stroke-linecap="round" />
<path d="M1563.0 788.6 Q1615 818.5 1686.9 790.2" fill="none" stroke="#5f7478" stroke-width="0.8" stroke-linejoin="round" stroke-linecap="round" />
<path d="M1561 512 L1568.4 516.6 L1568.4 584 L1561 588.4 Z" fill="#b9d1d4" stroke="#5f7478" stroke-width="0.9" stroke-linejoin="round" stroke-linecap="round" />
<path d="M1568.4 516.6 L1576.6 519 L1576.6 588.6 L1568.4 584 Z" fill="#b9d1d4" stroke="#5f7478" stroke-width="0.9" stroke-linejoin="round" stroke-linecap="round" />
<path d="M1576.6 519 L1580.2 517.6 L1580.2 587.6 L1576.6 588.6 Z" fill="#d3ebef" stroke="#5f7478" stroke-width="0.9" stroke-linejoin="round" stroke-linecap="round" />
<path d="M1561 512 L1564.6 510.8 L1580.2 517.6 L1576.6 519 L1568.4 516.6 Z" fill="#c2dadc" stroke="#5f7478" stroke-width="0.7" stroke-linejoin="round" stroke-linecap="round" />
<path d="M1567.6 528.6 L1542.0 530.6 Q1515.6 536.0 1516.2 554.5 Q1517.4 575.0 1534.4 577.6 L1567.6 573.4 Z" fill="#9fb6b8" stroke="#5f7478" stroke-width="0.9" stroke-linejoin="round" stroke-linecap="round" />
<path d="M1567.6 528.6 L1544.6 531.0 Q1519.0 537.0 1519.4 555.0 Q1520.6 573.0 1536.6 575.6 L1567.6 573.4 Z" fill="#d3ebef" stroke="#5f7478" stroke-width="0.7" stroke-linejoin="round" stroke-linecap="round" />
<ellipse cx="1537" cy="554.9" rx="11.8" ry="13.4" fill="#869c9f" stroke="#5f7478" stroke-width="0.9" transform="rotate(-10 1537 554.9)"/>
<clipPath id="lugh1"><ellipse cx="1537" cy="554.9" rx="11.8" ry="13.4" transform="rotate(-10 1537 554.9)"/></clipPath>
<g clip-path="url(#lugh1)">
<ellipse cx="1540" cy="552.4" rx="11" ry="12.6" fill="#cfe6ea" stroke="#5f7478" stroke-width="0.8" transform="rotate(-10 1540 552.4)"/>
<path d="M1543.4 543.0 L1541.4 556.0 L1534.0 562.0" fill="none" stroke="#5f7478" stroke-width="1.0" stroke-linejoin="round" stroke-linecap="round" />
</g>
<ellipse cx="1537" cy="554.9" rx="11.8" ry="13.4" fill="none" stroke="#5f7478" stroke-width="0.9" transform="rotate(-10 1537 554.9)"/>
<path d="M1560.9 953.5 L1568.7 958 L1568.7 1020.6 L1563.6 1020 Z" fill="#b9d1d4" stroke="#5f7478" stroke-width="0.9" stroke-linejoin="round" stroke-linecap="round" />
<path d="M1568.7 958 L1578.4 960.6 L1578.4 1027.4 L1568.7 1020.6 Z" fill="#b9d1d4" stroke="#5f7478" stroke-width="0.9" stroke-linejoin="round" stroke-linecap="round" />
<path d="M1578.4 960.6 L1581.6 961.8 L1581.6 1028.4 L1578.4 1027.4 Z" fill="#d3ebef" stroke="#5f7478" stroke-width="0.9" stroke-linejoin="round" stroke-linecap="round" />
<path d="M1560.9 953.5 Q1572 955.6 1581.6 961.8 L1578.4 960.6 Q1572 957.6 1568.7 958.0 Z" fill="#c2dadc" stroke="#5f7478" stroke-width="0.7" stroke-linejoin="round" stroke-linecap="round" />
<path d="M1568.7 969.6 L1538.7 973.4 Q1516.4 979.0 1517.1 998.0 Q1518.4 1017.0 1536.9 1018.3 L1568.7 1013.9 Z" fill="#9fb6b8" stroke="#5f7478" stroke-width="0.9" stroke-linejoin="round" stroke-linecap="round" />
<path d="M1568.7 969.6 L1541.6 973.6 Q1520.0 980.0 1520.4 998.4 Q1521.6 1015.4 1539.0 1016.5 L1568.7 1013.9 Z" fill="#d3ebef" stroke="#5f7478" stroke-width="0.7" stroke-linejoin="round" stroke-linecap="round" />
<ellipse cx="1539.7" cy="996.9" rx="10.8" ry="11.5" fill="#93a9ac" stroke="#5f7478" stroke-width="0.9" transform="rotate(-10 1539.7 996.9)"/>
<ellipse cx="1540.9" cy="997.2" rx="9.2" ry="10.2" fill="#fff" stroke="#5f7478" stroke-width="0.7" transform="rotate(-10 1540.9 997.2)"/>
<path d="M1686.5 565 L1716 548 L1716 640 L1686.5 628 Z" fill="#c2dadc" stroke="#5f7478" stroke-width="0.6" stroke-linejoin="round" stroke-linecap="round" />
<ellipse cx="1728.3" cy="480.25" rx="38.6" ry="45.4" fill="#a9c1c3" stroke="#5f7478" stroke-width="0.9" transform="rotate(5 1728.3 480.25)"/>
<ellipse cx="1733.55" cy="479.46" rx="38.6" ry="45.4" fill="none" stroke="#7d9195" stroke-width="0.6" transform="rotate(5 1733.55 479.46)"/>
<ellipse cx="1731.8" cy="479.72" rx="38.6" ry="45.4" fill="none" stroke="#7d9195" stroke-width="0.6" transform="rotate(5 1731.8 479.72)"/>
<ellipse cx="1730.05" cy="479.99" rx="38.6" ry="45.4" fill="none" stroke="#7d9195" stroke-width="0.6" transform="rotate(5 1730.05 479.99)"/>
<ellipse cx="1735.3" cy="479.2" rx="38.6" ry="45.4" fill="url(#gFace)" stroke="#5f7478" stroke-width="0.9" transform="rotate(5 1735.3 479.2)"/>
<ellipse cx="1733.8" cy="479.7" rx="24.4" ry="28.4" fill="#a9c1c3" stroke="#5f7478" stroke-width="0.9" transform="rotate(5 1733.8 479.7)"/>
<clipPath id="rh1735"><ellipse cx="1733.8" cy="479.7" rx="24.4" ry="28.4" transform="rotate(5 1735.3 479.2)"/></clipPath>
<g clip-path="url(#rh1735)">
<ellipse cx="1728.2" cy="480.54" rx="24.4" ry="28.4" fill="#fff" stroke="#5f7478" stroke-width="0.8" transform="rotate(5 1728.2 480.54)"/>
</g>
<ellipse cx="1733.8" cy="479.7" rx="24.4" ry="28.4" fill="none" stroke="#5f7478" stroke-width="0.9" transform="rotate(5 1733.8 479.7)"/>
<ellipse cx="1672.1" cy="587.3" rx="46" ry="53" fill="#a6bec0" stroke="#5f7478" stroke-width="0.9" transform="rotate(2 1672.1 587.3)"/>
<ellipse cx="1685.1" cy="587.6" rx="54.5" ry="61.8" fill="#b3cacc" stroke="#5f7478" stroke-width="0.9" transform="rotate(2 1685.1 587.6)"/>
<ellipse cx="1688.1" cy="587.8" rx="54.5" ry="61.8" fill="none" stroke="#7d9397" stroke-width="0.6" transform="rotate(2 1688.1 587.8)"/>
<ellipse cx="1690.6" cy="587.8" rx="54.5" ry="61.8" fill="none" stroke="#7d9397" stroke-width="0.6" transform="rotate(2 1690.6 587.8)"/>
<ellipse cx="1693.5" cy="588.1" rx="54.5" ry="61.8" fill="#d0e8ec" stroke="#5f7478" stroke-width="0.9" transform="rotate(2 1693.5 588.1)"/>
<ellipse cx="1699.3" cy="588.4" rx="54.5" ry="61.8" fill="#b3cacc" stroke="#5f7478" stroke-width="0.9" transform="rotate(2 1699.3 588.4)"/>
<ellipse cx="1702.1" cy="588.6" rx="54.5" ry="61.8" fill="none" stroke="#7d9397" stroke-width="0.6" transform="rotate(2 1702.1 588.6)"/>
<ellipse cx="1705.1" cy="588.8" rx="54.5" ry="61.8" fill="url(#gFace)" stroke="#5f7478" stroke-width="0.9" transform="rotate(2 1705.1 588.8)"/>
<ellipse cx="1646.4" cy="567" rx="2.6" ry="3.6" fill="#9fb5b7" stroke="#4a5c5f" stroke-width="0.8" />
<ellipse cx="1632.8" cy="560.8" rx="2.4" ry="3.2" fill="#9fb5b7" stroke="#4a5c5f" stroke-width="0.8" />
<ellipse cx="1703.8" cy="588.4" rx="27.8" ry="32.4" fill="#a7bdc0" stroke="#5f7478" stroke-width="0.9" transform="rotate(3 1703.8 588.4)"/>
<clipPath id="bore"><ellipse cx="1703.8" cy="588.4" rx="27.8" ry="32.4" transform="rotate(3 1703.8 588.4)"/></clipPath>
<g clip-path="url(#bore)">
<ellipse cx="1699.8" cy="588.2" rx="24.6" ry="30.2" fill="#cde3e8" stroke="#141c22" stroke-width="1.6" transform="rotate(3 1699.8 588.2)"/>
<ellipse cx="1698" cy="588" rx="23.4" ry="29.2" fill="#cde3e8" stroke="#7d9195" stroke-width="0.7" transform="rotate(3 1698 588)"/>
</g>
<ellipse cx="1703.8" cy="588.4" rx="27.8" ry="32.4" fill="none" stroke="#5f7478" stroke-width="0.9" transform="rotate(3 1703.8 588.4)"/>
<path d="M1697.7 542.1 L1693.3 550.03 L1684.5 550.03 L1680.1 542.1 L1684.5 534.17 L1693.3 534.17 Z" fill="#8c9fa1" stroke="#3f4d50" stroke-width="1.2" stroke-linejoin="round" stroke-linecap="round" />
<ellipse cx="1688.9" cy="542.1" rx="8.18" ry="8.54" fill="#8c9fa1" stroke="#3f4d50" stroke-width="0.9" />
<ellipse cx="1690.83" cy="543.08" rx="6.16" ry="6.69" fill="#a9babb" stroke="#4a5a5d" stroke-width="0.9" />
<ellipse cx="1693.03" cy="544.2" rx="4.93" ry="5.46" fill="#b9c8c8" stroke="#56676a" stroke-width="0.8" />
<ellipse cx="1694.4" cy="544.9" rx="3.87" ry="4.4" fill="url(#gBolt)" stroke="#5c6d70" stroke-width="0.7" />
<path d="M1731.8 537.5 L1727.4 545.43 L1718.6 545.43 L1714.2 537.5 L1718.6 529.57 L1727.4 529.57 Z" fill="#8c9fa1" stroke="#3f4d50" stroke-width="1.2" stroke-linejoin="round" stroke-linecap="round" />
<ellipse cx="1723" cy="537.5" rx="8.18" ry="8.54" fill="#8c9fa1" stroke="#3f4d50" stroke-width="0.9" />
<ellipse cx="1724.92" cy="538.48" rx="6.16" ry="6.69" fill="#a9babb" stroke="#4a5a5d" stroke-width="0.9" />
<ellipse cx="1727.12" cy="539.6" rx="4.93" ry="5.46" fill="#b9c8c8" stroke="#56676a" stroke-width="0.8" />
<ellipse cx="1728.5" cy="540.3" rx="3.87" ry="4.4" fill="url(#gBolt)" stroke="#5c6d70" stroke-width="0.7" />
<path d="M1756.7 563.4 L1752.3 571.33 L1743.5 571.33 L1739.1 563.4 L1743.5 555.47 L1752.3 555.47 Z" fill="#8c9fa1" stroke="#3f4d50" stroke-width="1.2" stroke-linejoin="round" stroke-linecap="round" />
<ellipse cx="1747.9" cy="563.4" rx="8.18" ry="8.54" fill="#8c9fa1" stroke="#3f4d50" stroke-width="0.9" />
<ellipse cx="1749.83" cy="564.38" rx="6.16" ry="6.69" fill="#a9babb" stroke="#4a5a5d" stroke-width="0.9" />
<ellipse cx="1752.03" cy="565.5" rx="4.93" ry="5.46" fill="#b9c8c8" stroke="#56676a" stroke-width="0.8" />
<ellipse cx="1753.4" cy="566.2" rx="3.87" ry="4.4" fill="url(#gBolt)" stroke="#5c6d70" stroke-width="0.7" />
<path d="M1756.3 603 L1751.9 610.93 L1743.1 610.93 L1738.7 603 L1743.1 595.07 L1751.9 595.07 Z" fill="#8c9fa1" stroke="#3f4d50" stroke-width="1.2" stroke-linejoin="round" stroke-linecap="round" />
<ellipse cx="1747.5" cy="603" rx="8.18" ry="8.54" fill="#8c9fa1" stroke="#3f4d50" stroke-width="0.9" />
<ellipse cx="1749.42" cy="603.98" rx="6.16" ry="6.69" fill="#a9babb" stroke="#4a5a5d" stroke-width="0.9" />
<ellipse cx="1751.62" cy="605.1" rx="4.93" ry="5.46" fill="#b9c8c8" stroke="#56676a" stroke-width="0.8" />
<ellipse cx="1753" cy="605.8" rx="3.87" ry="4.4" fill="url(#gBolt)" stroke="#5c6d70" stroke-width="0.7" />
<path d="M1731.8 634.4 L1727.4 642.33 L1718.6 642.33 L1714.2 634.4 L1718.6 626.47 L1727.4 626.47 Z" fill="#8c9fa1" stroke="#3f4d50" stroke-width="1.2" stroke-linejoin="round" stroke-linecap="round" />
<ellipse cx="1723" cy="634.4" rx="8.18" ry="8.54" fill="#8c9fa1" stroke="#3f4d50" stroke-width="0.9" />
<ellipse cx="1724.92" cy="635.38" rx="6.16" ry="6.69" fill="#a9babb" stroke="#4a5a5d" stroke-width="0.9" />
<ellipse cx="1727.12" cy="636.5" rx="4.93" ry="5.46" fill="#b9c8c8" stroke="#56676a" stroke-width="0.8" />
<ellipse cx="1728.5" cy="637.2" rx="3.87" ry="4.4" fill="url(#gBolt)" stroke="#5c6d70" stroke-width="0.7" />
<path d="M1697.2 639 L1692.8 646.93 L1684 646.93 L1679.6 639 L1684 631.07 L1692.8 631.07 Z" fill="#8c9fa1" stroke="#3f4d50" stroke-width="1.2" stroke-linejoin="round" stroke-linecap="round" />
<ellipse cx="1688.4" cy="639" rx="8.18" ry="8.54" fill="#8c9fa1" stroke="#3f4d50" stroke-width="0.9" />
<ellipse cx="1690.33" cy="639.98" rx="6.16" ry="6.69" fill="#a9babb" stroke="#4a5a5d" stroke-width="0.9" />
<ellipse cx="1692.53" cy="641.1" rx="4.93" ry="5.46" fill="#b9c8c8" stroke="#56676a" stroke-width="0.8" />
<ellipse cx="1693.9" cy="641.8" rx="3.87" ry="4.4" fill="url(#gBolt)" stroke="#5c6d70" stroke-width="0.7" />
<path d="M1672.3 613.2 L1667.9 621.13 L1659.1 621.13 L1654.7 613.2 L1659.1 605.27 L1667.9 605.27 Z" fill="#8c9fa1" stroke="#3f4d50" stroke-width="1.2" stroke-linejoin="round" stroke-linecap="round" />
<ellipse cx="1663.5" cy="613.2" rx="8.18" ry="8.54" fill="#8c9fa1" stroke="#3f4d50" stroke-width="0.9" />
<ellipse cx="1665.42" cy="614.18" rx="6.16" ry="6.69" fill="#a9babb" stroke="#4a5a5d" stroke-width="0.9" />
<ellipse cx="1667.62" cy="615.3" rx="4.93" ry="5.46" fill="#b9c8c8" stroke="#56676a" stroke-width="0.8" />
<ellipse cx="1669" cy="616" rx="3.87" ry="4.4" fill="url(#gBolt)" stroke="#5c6d70" stroke-width="0.7" />
<path d="M1672.3 572.6 L1667.9 580.53 L1659.1 580.53 L1654.7 572.6 L1659.1 564.67 L1667.9 564.67 Z" fill="#8c9fa1" stroke="#3f4d50" stroke-width="1.2" stroke-linejoin="round" stroke-linecap="round" />
<ellipse cx="1663.5" cy="572.6" rx="8.18" ry="8.54" fill="#8c9fa1" stroke="#3f4d50" stroke-width="0.9" />
<ellipse cx="1665.42" cy="573.58" rx="6.16" ry="6.69" fill="#a9babb" stroke="#4a5a5d" stroke-width="0.9" />
<ellipse cx="1667.62" cy="574.7" rx="4.93" ry="5.46" fill="#b9c8c8" stroke="#56676a" stroke-width="0.8" />
<ellipse cx="1669" cy="575.4" rx="3.87" ry="4.4" fill="url(#gBolt)" stroke="#5c6d70" stroke-width="0.7" />
<ellipse cx="1669.9" cy="990.9" rx="45" ry="52" fill="#a6bec0" stroke="#5f7478" stroke-width="0.9" transform="rotate(3 1669.9 990.9)"/>
<ellipse cx="1682.9" cy="991.6" rx="52.4" ry="60.4" fill="#b3cacc" stroke="#5f7478" stroke-width="0.9" transform="rotate(3 1682.9 991.6)"/>
<ellipse cx="1685.4" cy="991.77" rx="52.4" ry="60.4" fill="none" stroke="#7d9397" stroke-width="0.6" transform="rotate(3 1685.4 991.77)"/>
<ellipse cx="1687.9" cy="991.92" rx="52.4" ry="60.4" fill="none" stroke="#7d9397" stroke-width="0.6" transform="rotate(3 1687.9 991.92)"/>
<ellipse cx="1690.4" cy="992.07" rx="52.4" ry="60.4" fill="none" stroke="#7d9397" stroke-width="0.6" transform="rotate(3 1690.4 992.07)"/>
<ellipse cx="1692.9" cy="992.22" rx="52.4" ry="60.4" fill="none" stroke="#7d9397" stroke-width="0.6" transform="rotate(3 1692.9 992.22)"/>
<ellipse cx="1695.9" cy="992.4" rx="52.4" ry="60.4" fill="url(#gFace)" stroke="#5f7478" stroke-width="0.9" transform="rotate(3 1695.9 992.4)"/>
<ellipse cx="1656.6" cy="940.2" rx="2.4" ry="3" fill="#9fb5b7" stroke="#4a5c5f" stroke-width="0.8" />
<ellipse cx="1633.2" cy="971.8" rx="2.2" ry="3.4" fill="#9fb5b7" stroke="#4a5c5f" stroke-width="0.8" />
<path d="M1687.8 951.4 L1683.4 959.33 L1674.6 959.33 L1670.2 951.4 L1674.6 943.47 L1683.4 943.47 Z" fill="#8c9fa1" stroke="#3f4d50" stroke-width="1.2" stroke-linejoin="round" stroke-linecap="round" />
<ellipse cx="1679" cy="951.4" rx="8.18" ry="8.54" fill="#8c9fa1" stroke="#3f4d50" stroke-width="0.9" />
<ellipse cx="1680.92" cy="952.8" rx="6.16" ry="6.69" fill="#a9babb" stroke="#4a5a5d" stroke-width="0.9" />
<ellipse cx="1683.12" cy="954.4" rx="4.93" ry="5.46" fill="#b9c8c8" stroke="#56676a" stroke-width="0.8" />
<ellipse cx="1684.5" cy="955.4" rx="3.87" ry="4.4" fill="url(#gBolt)" stroke="#5c6d70" stroke-width="0.7" />
<path d="M1722 946.3 L1717.6 954.23 L1708.8 954.23 L1704.4 946.3 L1708.8 938.37 L1717.6 938.37 Z" fill="#8c9fa1" stroke="#3f4d50" stroke-width="1.2" stroke-linejoin="round" stroke-linecap="round" />
<ellipse cx="1713.2" cy="946.3" rx="8.18" ry="8.54" fill="#8c9fa1" stroke="#3f4d50" stroke-width="0.9" />
<ellipse cx="1715.12" cy="947.7" rx="6.16" ry="6.69" fill="#a9babb" stroke="#4a5a5d" stroke-width="0.9" />
<ellipse cx="1717.33" cy="949.3" rx="4.93" ry="5.46" fill="#b9c8c8" stroke="#56676a" stroke-width="0.8" />
<ellipse cx="1718.7" cy="950.3" rx="3.87" ry="4.4" fill="url(#gBolt)" stroke="#5c6d70" stroke-width="0.7" />
<path d="M1745.5 969.8 L1741.1 977.73 L1732.3 977.73 L1727.9 969.8 L1732.3 961.87 L1741.1 961.87 Z" fill="#8c9fa1" stroke="#3f4d50" stroke-width="1.2" stroke-linejoin="round" stroke-linecap="round" />
<ellipse cx="1736.7" cy="969.8" rx="8.18" ry="8.54" fill="#8c9fa1" stroke="#3f4d50" stroke-width="0.9" />
<ellipse cx="1738.62" cy="971.2" rx="6.16" ry="6.69" fill="#a9babb" stroke="#4a5a5d" stroke-width="0.9" />
<ellipse cx="1740.83" cy="972.8" rx="4.93" ry="5.46" fill="#b9c8c8" stroke="#56676a" stroke-width="0.8" />
<ellipse cx="1742.2" cy="973.8" rx="3.87" ry="4.4" fill="url(#gBolt)" stroke="#5c6d70" stroke-width="0.7" />
<path d="M1745 1007.2 L1740.6 1015.13 L1731.8 1015.13 L1727.4 1007.2 L1731.8 999.27 L1740.6 999.27 Z" fill="#8c9fa1" stroke="#3f4d50" stroke-width="1.2" stroke-linejoin="round" stroke-linecap="round" />
<ellipse cx="1736.2" cy="1007.2" rx="8.18" ry="8.54" fill="#8c9fa1" stroke="#3f4d50" stroke-width="0.9" />
<ellipse cx="1738.12" cy="1008.6" rx="6.16" ry="6.69" fill="#a9babb" stroke="#4a5a5d" stroke-width="0.9" />
<ellipse cx="1740.33" cy="1010.2" rx="4.93" ry="5.46" fill="#b9c8c8" stroke="#56676a" stroke-width="0.8" />
<ellipse cx="1741.7" cy="1011.2" rx="3.87" ry="4.4" fill="url(#gBolt)" stroke="#5c6d70" stroke-width="0.7" />
<path d="M1721.5 1037.6 L1717.1 1045.53 L1708.3 1045.53 L1703.9 1037.6 L1708.3 1029.67 L1717.1 1029.67 Z" fill="#8c9fa1" stroke="#3f4d50" stroke-width="1.2" stroke-linejoin="round" stroke-linecap="round" />
<ellipse cx="1712.7" cy="1037.6" rx="8.18" ry="8.54" fill="#8c9fa1" stroke="#3f4d50" stroke-width="0.9" />
<ellipse cx="1714.62" cy="1039" rx="6.16" ry="6.69" fill="#a9babb" stroke="#4a5a5d" stroke-width="0.9" />
<ellipse cx="1716.83" cy="1040.6" rx="4.93" ry="5.46" fill="#b9c8c8" stroke="#56676a" stroke-width="0.8" />
<ellipse cx="1718.2" cy="1041.6" rx="3.87" ry="4.4" fill="url(#gBolt)" stroke="#5c6d70" stroke-width="0.7" />
<path d="M1687.4 1043.6 L1683 1051.53 L1674.2 1051.53 L1669.8 1043.6 L1674.2 1035.67 L1683 1035.67 Z" fill="#8c9fa1" stroke="#3f4d50" stroke-width="1.2" stroke-linejoin="round" stroke-linecap="round" />
<ellipse cx="1678.6" cy="1043.6" rx="8.18" ry="8.54" fill="#8c9fa1" stroke="#3f4d50" stroke-width="0.9" />
<ellipse cx="1680.52" cy="1045" rx="6.16" ry="6.69" fill="#a9babb" stroke="#4a5a5d" stroke-width="0.9" />
<ellipse cx="1682.72" cy="1046.6" rx="4.93" ry="5.46" fill="#b9c8c8" stroke="#56676a" stroke-width="0.8" />
<ellipse cx="1684.1" cy="1047.6" rx="3.87" ry="4.4" fill="url(#gBolt)" stroke="#5c6d70" stroke-width="0.7" />
<path d="M1663.9 1020.6 L1659.5 1028.53 L1650.7 1028.53 L1646.3 1020.6 L1650.7 1012.67 L1659.5 1012.67 Z" fill="#8c9fa1" stroke="#3f4d50" stroke-width="1.2" stroke-linejoin="round" stroke-linecap="round" />
<ellipse cx="1655.1" cy="1020.6" rx="8.18" ry="8.54" fill="#8c9fa1" stroke="#3f4d50" stroke-width="0.9" />
<ellipse cx="1657.02" cy="1022" rx="6.16" ry="6.69" fill="#a9babb" stroke="#4a5a5d" stroke-width="0.9" />
<ellipse cx="1659.22" cy="1023.6" rx="4.93" ry="5.46" fill="#b9c8c8" stroke="#56676a" stroke-width="0.8" />
<ellipse cx="1660.6" cy="1024.6" rx="3.87" ry="4.4" fill="url(#gBolt)" stroke="#5c6d70" stroke-width="0.7" />
<path d="M1663.9 982.7 L1659.5 990.63 L1650.7 990.63 L1646.3 982.7 L1650.7 974.77 L1659.5 974.77 Z" fill="#8c9fa1" stroke="#3f4d50" stroke-width="1.2" stroke-linejoin="round" stroke-linecap="round" />
<ellipse cx="1655.1" cy="982.7" rx="8.18" ry="8.54" fill="#8c9fa1" stroke="#3f4d50" stroke-width="0.9" />
<ellipse cx="1657.02" cy="984.1" rx="6.16" ry="6.69" fill="#a9babb" stroke="#4a5a5d" stroke-width="0.9" />
<ellipse cx="1659.22" cy="985.7" rx="4.93" ry="5.46" fill="#b9c8c8" stroke="#56676a" stroke-width="0.8" />
<ellipse cx="1660.6" cy="986.7" rx="3.87" ry="4.4" fill="url(#gBolt)" stroke="#5c6d70" stroke-width="0.7" />
<path d="M1561.9 1077 L1565.7 1076.3 L1584.5 1085.7 L1584.5 1139 L1576.3 1139.6 L1576.3 1096.4 L1561.9 1090 Z" fill="#d3ebef" stroke="#5f7478" stroke-width="0.9" stroke-linejoin="round" stroke-linecap="round" />
<path d="M1561.9 1077 L1565.7 1076.3 L1584.5 1085.7 L1581 1086.6 Z" fill="#c2dadc" stroke="#5f7478" stroke-width="0.7" stroke-linejoin="round" stroke-linecap="round" />
<line x1="1581" y1="1086.6" x2="1581" y2="1139.2" stroke="#5f7478" stroke-width="0.7" />
<path d="M1559.4 1088.9 L1576.3 1096.4 L1576.3 1127.7 L1560 1122.7 Z" fill="#b4c9cd" stroke="#5f7478" stroke-width="0.9" stroke-linejoin="round" stroke-linecap="round" />
<path d="M1560 1122.7 L1573.8 1130.2 L1556.6 1223.6 L1543 1215.9 Z" fill="#a6bcc0" stroke="#5f7478" stroke-width="0.9" stroke-linejoin="round" stroke-linecap="round" />
<line x1="1572.6" y1="1136" x2="1556.4" y2="1222" stroke="#7b8f93" stroke-width="1.6" stroke-dasharray="2.5 2"/>
<path d="M1543 1215.9 L1556.6 1223.6 L1556.6 1280 L1543 1272.3 Z" fill="#b9ced1" stroke="#5f7478" stroke-width="0.9" stroke-linejoin="round" stroke-linecap="round" />
<path d="M1613.9 1190.5 L1632.7 1190.5 L1632.7 1203 Q1630 1247 1589.1 1251.8 L1589.1 1234.7 Q1612 1231 1613.9 1203 Z" fill="#c9dde0" stroke="#5f7478" stroke-width="0.9" stroke-linejoin="round" stroke-linecap="round" />
<path d="M1621.5 1192 L1623 1205 Q1621 1240 1589.1 1241.5" fill="none" stroke="#def0f2" stroke-width="3.2" stroke-linejoin="round" stroke-linecap="round" />
<path d="M1613.9 1196.5 Q1623 1199.5 1632.7 1196.5" fill="none" stroke="#5f7478" stroke-width="0.8" stroke-linejoin="round" stroke-linecap="round" />
<path d="M1589.1 1234.7 L1589.1 1251.8 L1520 1262.7 L1520 1245.6 Z" fill="url(#gPipeH)" stroke="#5f7478" stroke-width="0.9" stroke-linejoin="round" stroke-linecap="round" />
<line x1="1589.1" y1="1234.7" x2="1589.1" y2="1251.8" stroke="#5f7478" stroke-width="0.8" />
<path d="M1543 1240 L1556.6 1244.5 L1556.6 1280 L1543 1272.3 Z" fill="#b9ced1" stroke="#5f7478" stroke-width="0.0" stroke-linejoin="round" stroke-linecap="round" />
<line x1="1556.6" y1="1223.6" x2="1556.6" y2="1280" stroke="#5f7478" stroke-width="0.9" />
<line x1="1543" y1="1215.9" x2="1543" y2="1272.3" stroke="#5f7478" stroke-width="0.9" />
<line x1="1543" y1="1272.3" x2="1556.6" y2="1280" stroke="#5f7478" stroke-width="0.9" />
<ellipse cx="1549" cy="1250.6" rx="5" ry="8.6" fill="url(#gPipeH)" stroke="#5f7478" stroke-width="0.7" transform="rotate(-6 1549 1250.6)"/>
<ellipse cx="1534.5" cy="1238" rx="2.4" ry="2.8" fill="#8b9fa2" stroke="#4a5c5f" stroke-width="0.7" />
<ellipse cx="1537.5" cy="1262.5" rx="2.4" ry="2.8" fill="#8b9fa2" stroke="#4a5c5f" stroke-width="0.7" />
<ellipse cx="1497" cy="1275" rx="2.4" ry="2.8" fill="#8b9fa2" stroke="#4a5c5f" stroke-width="0.7" />
<ellipse cx="1528" cy="1254.37" rx="14" ry="31" fill="#c2dadc" stroke="#5f7478" stroke-width="0.9" transform="rotate(-7 1528 1254.37)"/>
<ellipse cx="1525" cy="1254.84" rx="14" ry="31" fill="#d3ebef" stroke="#5f7478" stroke-width="0.9" transform="rotate(-7 1525 1254.84)"/>
<ellipse cx="1522" cy="1255.32" rx="14" ry="31" fill="#8ea3a7" stroke="#5f7478" stroke-width="0.9" transform="rotate(-7 1522 1255.32)"/>
<ellipse cx="1519.5" cy="1255.71" rx="14" ry="31" fill="#c2dadc" stroke="#5f7478" stroke-width="0.9" transform="rotate(-7 1519.5 1255.71)"/>
<ellipse cx="1516" cy="1256.26" rx="14" ry="31" fill="#d3ebef" stroke="#5f7478" stroke-width="0.9" transform="rotate(-7 1516 1256.26)"/>
<ellipse cx="1512.5" cy="1256.82" rx="14" ry="31" fill="#c2dadc" stroke="#5f7478" stroke-width="0.9" transform="rotate(-7 1512.5 1256.82)"/>
<ellipse cx="1509" cy="1257.4" rx="14.6" ry="31" fill="#a9bfc1" stroke="#5f7478" stroke-width="0.9" transform="rotate(-7 1509 1257.4)"/>
<path d="M1492.5 1252.6 L1509 1250 L1509 1263 L1492.5 1265.5 Z" fill="url(#gPipeH)" stroke="#5f7478" stroke-width="0.0" stroke-linejoin="round" stroke-linecap="round" />
<path d="M1501.3 1237.5 L1498.85 1241.91 L1493.95 1241.91 L1491.5 1237.5 L1493.95 1233.09 L1498.85 1233.09 Z" fill="#8c9fa1" stroke="#3f4d50" stroke-width="1.2" stroke-linejoin="round" stroke-linecap="round" />
<ellipse cx="1496.4" cy="1237.5" rx="4.56" ry="4.75" fill="#8c9fa1" stroke="#3f4d50" stroke-width="0.9" />
<ellipse cx="1497.31" cy="1237.64" rx="3.43" ry="3.72" fill="#a9babb" stroke="#4a5a5d" stroke-width="0.9" />
<ellipse cx="1498.35" cy="1237.8" rx="2.74" ry="3.04" fill="#b9c8c8" stroke="#56676a" stroke-width="0.8" />
<ellipse cx="1499" cy="1237.9" rx="2.16" ry="2.45" fill="url(#gBolt)" stroke="#5c6d70" stroke-width="0.7" />
<path d="M1516.7 1247.6 L1514.25 1252.01 L1509.35 1252.01 L1506.9 1247.6 L1509.35 1243.19 L1514.25 1243.19 Z" fill="#8c9fa1" stroke="#3f4d50" stroke-width="1.2" stroke-linejoin="round" stroke-linecap="round" />
<ellipse cx="1511.8" cy="1247.6" rx="4.56" ry="4.75" fill="#8c9fa1" stroke="#3f4d50" stroke-width="0.9" />
<ellipse cx="1512.71" cy="1247.74" rx="3.43" ry="3.72" fill="#a9babb" stroke="#4a5a5d" stroke-width="0.9" />
<ellipse cx="1513.75" cy="1247.9" rx="2.74" ry="3.04" fill="#b9c8c8" stroke="#56676a" stroke-width="0.8" />
<ellipse cx="1514.4" cy="1248" rx="2.16" ry="2.45" fill="url(#gBolt)" stroke="#5c6d70" stroke-width="0.7" />
<path d="M1516.7 1279 L1514.25 1283.41 L1509.35 1283.41 L1506.9 1279 L1509.35 1274.59 L1514.25 1274.59 Z" fill="#8c9fa1" stroke="#3f4d50" stroke-width="1.2" stroke-linejoin="round" stroke-linecap="round" />
<ellipse cx="1511.8" cy="1279" rx="4.56" ry="4.75" fill="#8c9fa1" stroke="#3f4d50" stroke-width="0.9" />
<ellipse cx="1512.71" cy="1279.14" rx="3.43" ry="3.72" fill="#a9babb" stroke="#4a5a5d" stroke-width="0.9" />
<ellipse cx="1513.75" cy="1279.3" rx="2.74" ry="3.04" fill="#b9c8c8" stroke="#56676a" stroke-width="0.8" />
<ellipse cx="1514.4" cy="1279.4" rx="2.16" ry="2.45" fill="url(#gBolt)" stroke="#5c6d70" stroke-width="0.7" />
<path d="M1501.5 1268.8 L1499.05 1273.21 L1494.15 1273.21 L1491.7 1268.8 L1494.15 1264.39 L1499.05 1264.39 Z" fill="#8c9fa1" stroke="#3f4d50" stroke-width="1.2" stroke-linejoin="round" stroke-linecap="round" />
<ellipse cx="1496.6" cy="1268.8" rx="4.56" ry="4.75" fill="#8c9fa1" stroke="#3f4d50" stroke-width="0.9" />
<ellipse cx="1497.51" cy="1268.94" rx="3.43" ry="3.72" fill="#a9babb" stroke="#4a5a5d" stroke-width="0.9" />
<ellipse cx="1498.55" cy="1269.1" rx="2.74" ry="3.04" fill="#b9c8c8" stroke="#56676a" stroke-width="0.8" />
<ellipse cx="1499.2" cy="1269.2" rx="2.16" ry="2.45" fill="url(#gBolt)" stroke="#5c6d70" stroke-width="0.7" />
<path d="M1503.5 1250.8 L1462 1257.4 L1462 1272.6 L1503.5 1266 Z" fill="url(#gPipeH)" stroke="#5f7478" stroke-width="0.9" stroke-linejoin="round" stroke-linecap="round" />
<ellipse cx="1503.5" cy="1258.4" rx="3.4" ry="7.6" fill="none" stroke="#5f7478" stroke-width="0.7" transform="rotate(-6 1503.5 1258.4)"/>
<ellipse cx="1466.5" cy="1256" rx="2.2" ry="2.6" fill="#8b9fa2" stroke="#4a5c5f" stroke-width="0.7" />
<ellipse cx="1468.5" cy="1287.5" rx="2.2" ry="2.6" fill="#8b9fa2" stroke="#4a5c5f" stroke-width="0.7" />
<ellipse cx="1461" cy="1265.53" rx="14.8" ry="32" fill="#c2dadc" stroke="#5f7478" stroke-width="0.9" transform="rotate(-7 1461 1265.53)"/>
<ellipse cx="1458" cy="1266" rx="14.8" ry="32" fill="#d3ebef" stroke="#5f7478" stroke-width="0.9" transform="rotate(-7 1458 1266)"/>
<ellipse cx="1456.4" cy="1248" rx="9.6" ry="19" fill="#a9c1c3" stroke="#5f7478" stroke-width="0.9" transform="rotate(-9 1456.4 1248)"/>
<ellipse cx="1453.8" cy="1248.4" rx="9.6" ry="19" fill="url(#gFace)" stroke="#5f7478" stroke-width="0.9" transform="rotate(-9 1453.8 1248.4)"/>
<ellipse cx="1453.4" cy="1250" rx="3.4" ry="6.6" fill="#eef7f8" stroke="#5f7478" stroke-width="0.7" transform="rotate(-9 1453.4 1250)"/>
<path d="M1446 1266 Q1452 1276 1459 1268 L1457 1292 Q1451 1298 1447 1290 Z" fill="#c2dadc" stroke="#5f7478" stroke-width="0.7" stroke-linejoin="round" stroke-linecap="round" />
<ellipse cx="1445" cy="1268.08" rx="15" ry="32.2" fill="#c2dadc" stroke="#5f7478" stroke-width="0.9" transform="rotate(-7 1445 1268.08)"/>
<ellipse cx="1442" cy="1268.56" rx="15" ry="32.2" fill="#d3ebef" stroke="#5f7478" stroke-width="0.9" transform="rotate(-7 1442 1268.56)"/>
<ellipse cx="1438.5" cy="1269.11" rx="15" ry="32.2" fill="#8ea3a7" stroke="#5f7478" stroke-width="0.9" transform="rotate(-7 1438.5 1269.11)"/>
<ellipse cx="1434.5" cy="1269.74" rx="15" ry="32.2" fill="#d3ebef" stroke="#5f7478" stroke-width="0.9" transform="rotate(-7 1434.5 1269.74)"/>
<ellipse cx="1431" cy="1270.3" rx="15" ry="32.2" fill="#c2dadc" stroke="#5f7478" stroke-width="0.9" transform="rotate(-7 1431 1270.3)"/>
<ellipse cx="1428.6" cy="1270.6" rx="15.6" ry="32.2" fill="#a9bfc1" stroke="#5f7478" stroke-width="0.9" transform="rotate(-7 1428.6 1270.6)"/>
<ellipse cx="1427.8" cy="1272.6" rx="3.6" ry="8" fill="#eef7f8" stroke="#5f7478" stroke-width="0.7" transform="rotate(-9 1427.8 1272.6)"/>
<path d="M1419.9 1251.8 L1417.45 1256.21 L1412.55 1256.21 L1410.1 1251.8 L1412.55 1247.39 L1417.45 1247.39 Z" fill="#8c9fa1" stroke="#3f4d50" stroke-width="1.2" stroke-linejoin="round" stroke-linecap="round" />
<ellipse cx="1415" cy="1251.8" rx="4.56" ry="4.75" fill="#8c9fa1" stroke="#3f4d50" stroke-width="0.9" />
<ellipse cx="1415.91" cy="1251.94" rx="3.43" ry="3.72" fill="#a9babb" stroke="#4a5a5d" stroke-width="0.9" />
<ellipse cx="1416.95" cy="1252.1" rx="2.74" ry="3.04" fill="#b9c8c8" stroke="#56676a" stroke-width="0.8" />
<ellipse cx="1417.6" cy="1252.2" rx="2.16" ry="2.45" fill="url(#gBolt)" stroke="#5c6d70" stroke-width="0.7" />
<path d="M1436.2 1263.7 L1433.75 1268.11 L1428.85 1268.11 L1426.4 1263.7 L1428.85 1259.29 L1433.75 1259.29 Z" fill="#8c9fa1" stroke="#3f4d50" stroke-width="1.2" stroke-linejoin="round" stroke-linecap="round" />
<ellipse cx="1431.3" cy="1263.7" rx="4.56" ry="4.75" fill="#8c9fa1" stroke="#3f4d50" stroke-width="0.9" />
<ellipse cx="1432.21" cy="1263.84" rx="3.43" ry="3.72" fill="#a9babb" stroke="#4a5a5d" stroke-width="0.9" />
<ellipse cx="1433.25" cy="1264" rx="2.74" ry="3.04" fill="#b9c8c8" stroke="#56676a" stroke-width="0.8" />
<ellipse cx="1433.9" cy="1264.1" rx="2.16" ry="2.45" fill="url(#gBolt)" stroke="#5c6d70" stroke-width="0.7" />
<path d="M1419.9 1284.3 L1417.45 1288.71 L1412.55 1288.71 L1410.1 1284.3 L1412.55 1279.89 L1417.45 1279.89 Z" fill="#8c9fa1" stroke="#3f4d50" stroke-width="1.2" stroke-linejoin="round" stroke-linecap="round" />
<ellipse cx="1415" cy="1284.3" rx="4.56" ry="4.75" fill="#8c9fa1" stroke="#3f4d50" stroke-width="0.9" />
<ellipse cx="1415.91" cy="1284.44" rx="3.43" ry="3.72" fill="#a9babb" stroke="#4a5a5d" stroke-width="0.9" />
<ellipse cx="1416.95" cy="1284.6" rx="2.74" ry="3.04" fill="#b9c8c8" stroke="#56676a" stroke-width="0.8" />
<ellipse cx="1417.6" cy="1284.7" rx="2.16" ry="2.45" fill="url(#gBolt)" stroke="#5c6d70" stroke-width="0.7" />
<path d="M1436.2 1295.4 L1433.75 1299.81 L1428.85 1299.81 L1426.4 1295.4 L1428.85 1290.99 L1433.75 1290.99 Z" fill="#8c9fa1" stroke="#3f4d50" stroke-width="1.2" stroke-linejoin="round" stroke-linecap="round" />
<ellipse cx="1431.3" cy="1295.4" rx="4.56" ry="4.75" fill="#8c9fa1" stroke="#3f4d50" stroke-width="0.9" />
<ellipse cx="1432.21" cy="1295.54" rx="3.43" ry="3.72" fill="#a9babb" stroke="#4a5a5d" stroke-width="0.9" />
<ellipse cx="1433.25" cy="1295.7" rx="2.74" ry="3.04" fill="#b9c8c8" stroke="#56676a" stroke-width="0.8" />
<ellipse cx="1433.9" cy="1295.8" rx="2.16" ry="2.45" fill="url(#gBolt)" stroke="#5c6d70" stroke-width="0.7" />
<path d="M1623.3 1053.8 L1634 1056 L1634 1137.1 L1623.3 1137.1 Z" fill="#d3ebef" stroke="#5f7478" stroke-width="0.9" stroke-linejoin="round" stroke-linecap="round" />
<path d="M1679 1052.5 L1682.8 1051 L1682.8 1157.7 L1679 1157.7 Z" fill="#c2dadc" stroke="#5f7478" stroke-width="0.7" stroke-linejoin="round" stroke-linecap="round" />
<path d="M1635.2 1056.3 L1669 1065.1 L1667.2 1358.6 L1634.7 1350.9 Z" fill="#bfdadb" stroke="#5f7478" stroke-width="0.9" stroke-linejoin="round" stroke-linecap="round" />
<path d="M1669 1065.1 L1679 1052.5 L1678 1344.9 L1667.2 1358.6 Z" fill="#8fa6aa" stroke="#5f7478" stroke-width="0.9" stroke-linejoin="round" stroke-linecap="round" />
<path d="M1622 1045 L1657.1 1045.6 L1680.3 1051.9 L1669 1065.1 L1635.2 1056.3 L1622 1052.5 Z" fill="#a8bcc0" stroke="#5f7478" stroke-width="0.9" stroke-linejoin="round" stroke-linecap="round" />
<line x1="1623" y1="1047.6" x2="1656.5" y2="1048.2" stroke="#5f7478" stroke-width="0.7" />
<line x1="1636.5" y1="1054.2" x2="1669.5" y2="1062.6" stroke="#cfe0e2" stroke-width="1.6" stroke-dasharray="3 2"/>
<line x1="1657.1" y1="1045.6" x2="1669" y2="1065.1" stroke="#141414" stroke-width="0.0" />
<ellipse cx="1652.2" cy="1302.4" rx="8" ry="8.4" fill="#1d1f1d" stroke="#2a2d2a" stroke-width="0.8" />
<ellipse cx="1649.8" cy="1305.2" rx="7.8" ry="8.2" fill="#2b2d28" stroke="#5f7478" stroke-width="0.0" />
<ellipse cx="1647.5" cy="1308.1" rx="7.7" ry="8.1" fill="#e3c86c" stroke="#5a4f25" stroke-width="1.0" />
<ellipse cx="1647.7" cy="1308.1" rx="4.5" ry="4.9" fill="#3c3c3a" stroke="#2c2a22" stroke-width="0.9" />
<ellipse cx="1648" cy="1307.8" rx="1.9" ry="2.1" fill="#63676a" stroke="#5f7478" stroke-width="0.0" />
<path d="M1616.5 1349.2 L1678.8 1336.4 L1722.4 1366.3 L1659.2 1379.1 Z" fill="#728886" stroke="#5f7478" stroke-width="0.9" stroke-linejoin="round" stroke-linecap="round" />
<path d="M1616.5 1349.2 L1659.2 1379.1 L1659.2 1384.4 L1616.5 1354.4 Z" fill="#b5cfd0" stroke="#5f7478" stroke-width="0.9" stroke-linejoin="round" stroke-linecap="round" />
<path d="M1659.2 1379.1 L1722.4 1366.3 L1722.4 1371.2 L1659.2 1384.4 Z" fill="#d4eef3" stroke="#5f7478" stroke-width="0.9" stroke-linejoin="round" stroke-linecap="round" />
<ellipse cx="1682.3" cy="1365.1" rx="4.4" ry="2.1" fill="#fff" stroke="#5f7478" stroke-width="0.6" transform="rotate(-8 1682.3 1365.1)"/>
<path d="M1635 1300 L1667.6 1300 L1667.2 1358.6 L1634.7 1350.9 Z" fill="#bfdadb" stroke="#5f7478" stroke-width="0.0" stroke-linejoin="round" stroke-linecap="round" />
<path d="M1667.6 1300 L1678.2 1300 L1678 1344.9 L1667.2 1358.6 Z" fill="#8fa6aa" stroke="#5f7478" stroke-width="0.0" stroke-linejoin="round" stroke-linecap="round" />
<line x1="1634.9" y1="1300" x2="1634.7" y2="1350.9" stroke="#5f7478" stroke-width="0.9" />
<line x1="1667.5" y1="1300" x2="1667.2" y2="1358.6" stroke="#5f7478" stroke-width="0.9" />
<line x1="1678.2" y1="1300" x2="1678" y2="1344.9" stroke="#5f7478" stroke-width="0.9" />
<line x1="1634.7" y1="1350.9" x2="1667.2" y2="1358.6" stroke="#5f7478" stroke-width="0.9" />
<line x1="1667.2" y1="1358.6" x2="1678" y2="1344.9" stroke="#5f7478" stroke-width="0.9" />
<ellipse cx="1652.2" cy="1302.4" rx="8" ry="8.4" fill="#1d1f1d" stroke="#2a2d2a" stroke-width="0.8" />
<ellipse cx="1649.8" cy="1305.2" rx="7.8" ry="8.2" fill="#2b2d28" stroke="#5f7478" stroke-width="0.0" />
<ellipse cx="1647.5" cy="1308.1" rx="7.7" ry="8.1" fill="#e3c86c" stroke="#5a4f25" stroke-width="1.0" />
<ellipse cx="1647.7" cy="1308.1" rx="4.5" ry="4.9" fill="#3c3c3a" stroke="#2c2a22" stroke-width="0.9" />
<ellipse cx="1648" cy="1307.8" rx="1.9" ry="2.1" fill="#63676a" stroke="#5f7478" stroke-width="0.0" />
</svg>
</body></html>
